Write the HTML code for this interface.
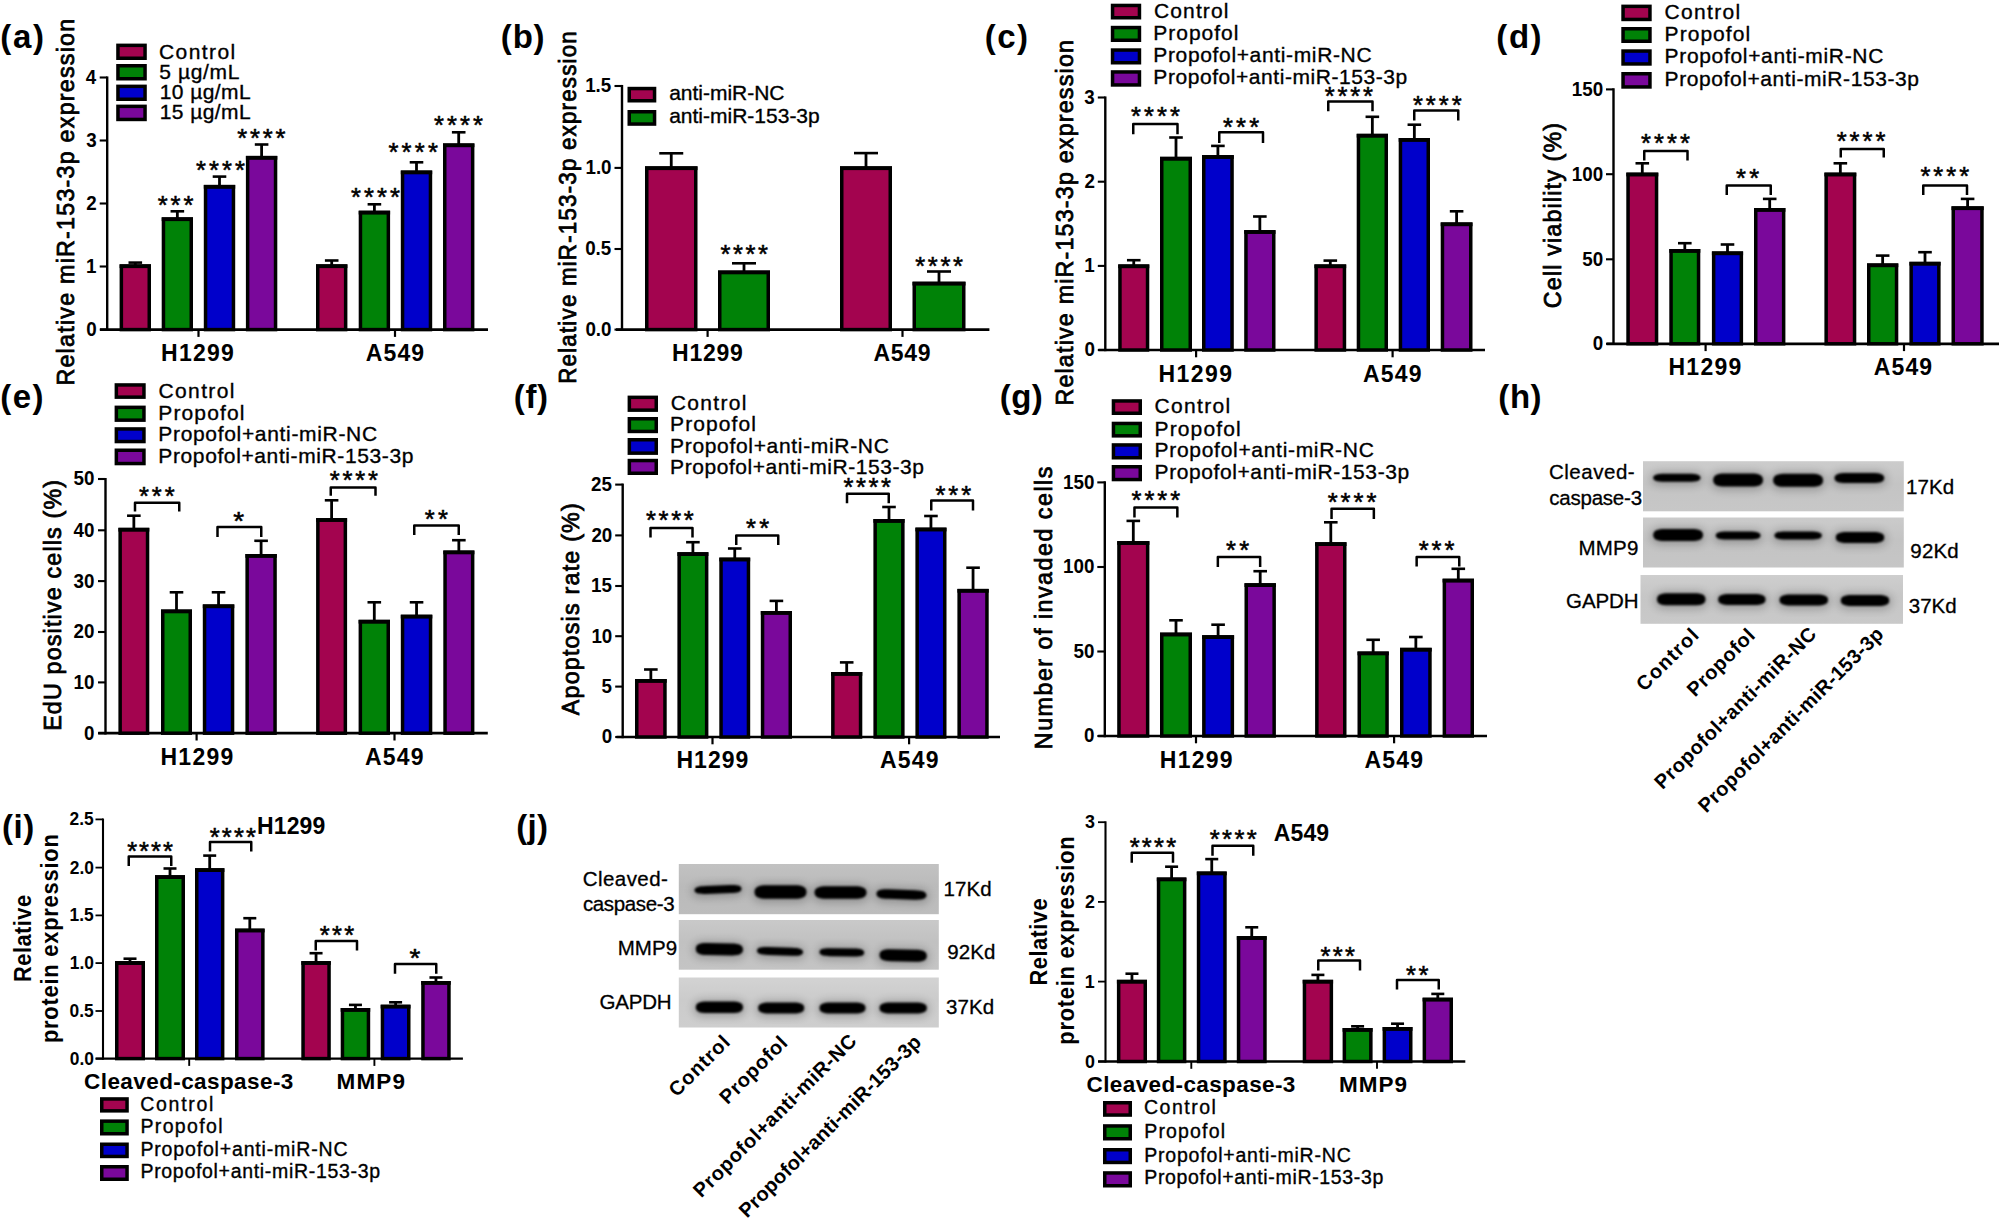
<!DOCTYPE html>
<html><head><meta charset="utf-8"><title>Figure</title>
<style>html,body{margin:0;padding:0;background:#fff}svg{display:block}text{font-family:"Liberation Sans",sans-serif;fill:#000}</style>
</head><body>
<svg width="2000" height="1219" viewBox="0 0 2000 1219">
<defs><filter id="bl" x="-5%" y="-5%" width="110%" height="110%"><feGaussianBlur stdDeviation="1.3"/></filter><filter id="halo" x="-5%" y="-5%" width="110%" height="110%"><feGaussianBlur stdDeviation="4"/></filter></defs>
<rect width="2000" height="1219" fill="#fff"/>
<text transform="translate(2.00 48.00)" x="-1.65" font-size="33" font-weight="bold" letter-spacing="1.688">(a)</text>
<text transform="translate(73.70 383.75) rotate(-90) scale(0.950 1)" x="-1.96" font-size="24.5" letter-spacing="1.304" stroke="#000" stroke-width="0.8">Relative miR-153-3p expression</text>
<line x1="107.20" y1="76.45" x2="107.20" y2="330.80" stroke="#000" stroke-width="2.4"/>
<line x1="100.00" y1="329.60" x2="488.00" y2="329.60" stroke="#000" stroke-width="2.6999999999999997"/>
<line x1="99.70" y1="77.50" x2="107.20" y2="77.50" stroke="#000" stroke-width="2.1"/>
<text transform="translate(85.94 83.98) scale(0.940 1)" x="-0.30" font-size="20" font-weight="bold">4</text>
<line x1="99.70" y1="140.50" x2="107.20" y2="140.50" stroke="#000" stroke-width="2.1"/>
<text transform="translate(86.69 146.98) scale(0.940 1)" x="-0.50" font-size="20" font-weight="bold">3</text>
<line x1="99.70" y1="203.50" x2="107.20" y2="203.50" stroke="#000" stroke-width="2.1"/>
<text transform="translate(86.98 209.98) scale(0.940 1)" x="-0.70" font-size="20" font-weight="bold">2</text>
<line x1="99.70" y1="266.50" x2="107.20" y2="266.50" stroke="#000" stroke-width="2.1"/>
<text transform="translate(87.16 272.98) scale(0.940 1)" x="-1.20" font-size="20" font-weight="bold">1</text>
<line x1="99.70" y1="329.60" x2="107.20" y2="329.60" stroke="#000" stroke-width="2.1"/>
<text transform="translate(87.07 336.08) scale(0.940 1)" x="-0.80" font-size="20" font-weight="bold">0</text>
<line x1="198.50" y1="329.60" x2="198.50" y2="336.90" stroke="#000" stroke-width="2.1999999999999997"/>
<line x1="395.00" y1="329.60" x2="395.00" y2="336.90" stroke="#000" stroke-width="2.1999999999999997"/>
<text transform="translate(162.55 361.20)" x="-1.50" font-size="23" font-weight="bold" letter-spacing="1.266">H1299</text>
<text transform="translate(366.30 361.20)" x="-0.58" font-size="23" font-weight="bold" letter-spacing="1.137">A549</text>
<line x1="135.30" y1="262.60" x2="135.30" y2="265.30" stroke="#000" stroke-width="2.8000000000000003"/>
<line x1="128.50" y1="262.60" x2="142.10" y2="262.60" stroke="#000" stroke-width="2.6"/>
<rect x="121.35" y="266.05" width="27.90" height="63.55" fill="#A3044F" stroke="#000" stroke-width="3.5"/>
<rect x="119.60" y="264.30" width="31.40" height="3.8" fill="#000"/>
<line x1="177.35" y1="211.30" x2="177.35" y2="218.30" stroke="#000" stroke-width="2.8000000000000003"/>
<line x1="170.55" y1="211.30" x2="184.15" y2="211.30" stroke="#000" stroke-width="2.6"/>
<rect x="163.45" y="219.05" width="27.80" height="110.55" fill="#008207" stroke="#000" stroke-width="3.5"/>
<rect x="161.70" y="217.30" width="31.30" height="3.8" fill="#000"/>
<line x1="219.50" y1="176.60" x2="219.50" y2="185.90" stroke="#000" stroke-width="2.8000000000000003"/>
<line x1="212.70" y1="176.60" x2="226.30" y2="176.60" stroke="#000" stroke-width="2.6"/>
<rect x="205.55" y="186.65" width="27.90" height="142.95" fill="#0000CB" stroke="#000" stroke-width="3.5"/>
<rect x="203.80" y="184.90" width="31.40" height="3.8" fill="#000"/>
<line x1="261.60" y1="144.50" x2="261.60" y2="156.90" stroke="#000" stroke-width="2.8000000000000003"/>
<line x1="254.80" y1="144.50" x2="268.40" y2="144.50" stroke="#000" stroke-width="2.6"/>
<rect x="247.65" y="157.65" width="27.90" height="171.95" fill="#7A089B" stroke="#000" stroke-width="3.5"/>
<rect x="245.90" y="155.90" width="31.40" height="3.8" fill="#000"/>
<line x1="331.70" y1="260.50" x2="331.70" y2="265.30" stroke="#000" stroke-width="2.8000000000000003"/>
<line x1="324.90" y1="260.50" x2="338.50" y2="260.50" stroke="#000" stroke-width="2.6"/>
<rect x="317.75" y="266.05" width="27.90" height="63.55" fill="#A3044F" stroke="#000" stroke-width="3.5"/>
<rect x="316.00" y="264.30" width="31.40" height="3.8" fill="#000"/>
<line x1="374.40" y1="204.30" x2="374.40" y2="211.70" stroke="#000" stroke-width="2.8000000000000003"/>
<line x1="367.60" y1="204.30" x2="381.20" y2="204.30" stroke="#000" stroke-width="2.6"/>
<rect x="360.45" y="212.45" width="27.90" height="117.15" fill="#008207" stroke="#000" stroke-width="3.5"/>
<rect x="358.70" y="210.70" width="31.40" height="3.8" fill="#000"/>
<line x1="416.50" y1="162.30" x2="416.50" y2="171.50" stroke="#000" stroke-width="2.8000000000000003"/>
<line x1="409.70" y1="162.30" x2="423.30" y2="162.30" stroke="#000" stroke-width="2.6"/>
<rect x="402.55" y="172.25" width="27.90" height="157.35" fill="#0000CB" stroke="#000" stroke-width="3.5"/>
<rect x="400.80" y="170.50" width="31.40" height="3.8" fill="#000"/>
<line x1="458.70" y1="132.30" x2="458.70" y2="144.40" stroke="#000" stroke-width="2.8000000000000003"/>
<line x1="451.90" y1="132.30" x2="465.50" y2="132.30" stroke="#000" stroke-width="2.6"/>
<rect x="444.75" y="145.15" width="27.90" height="184.45" fill="#7A089B" stroke="#000" stroke-width="3.5"/>
<rect x="443.00" y="143.40" width="31.40" height="3.8" fill="#000"/>
<text transform="translate(158.00 213.97)" x="-0.38" font-size="25.5" letter-spacing="2.965" stroke="#000" stroke-width="0.55">***</text>
<text transform="translate(196.25 179.07)" x="-0.38" font-size="25.5" letter-spacing="3.121" stroke="#000" stroke-width="0.55">****</text>
<text transform="translate(237.50 147.07)" x="-0.38" font-size="25.5" letter-spacing="2.871" stroke="#000" stroke-width="0.55">****</text>
<text transform="translate(351.25 206.47)" x="-0.38" font-size="25.5" letter-spacing="3.121" stroke="#000" stroke-width="0.55">****</text>
<text transform="translate(388.75 161.47)" x="-0.38" font-size="25.5" letter-spacing="3.287" stroke="#000" stroke-width="0.55">****</text>
<text transform="translate(434.25 133.82)" x="-0.38" font-size="25.5" letter-spacing="3.121" stroke="#000" stroke-width="0.55">****</text>
<rect x="117.95" y="45.35" width="27.10" height="12.90" fill="#A3044F" stroke="#000" stroke-width="3.5"/>
<text transform="translate(160.00 58.75)" x="-1.05" font-size="21" letter-spacing="1.424" stroke="#000" stroke-width="0.35">Control</text>
<rect x="117.95" y="65.75" width="27.10" height="13.00" fill="#008207" stroke="#000" stroke-width="3.5"/>
<text transform="translate(160.00 78.75)" x="-0.84" font-size="21" letter-spacing="0.665" stroke="#000" stroke-width="0.35">5 µg/mL</text>
<rect x="117.95" y="86.35" width="27.10" height="12.90" fill="#0000CB" stroke="#000" stroke-width="3.5"/>
<text transform="translate(161.25 98.75)" x="-1.57" font-size="21" letter-spacing="0.424" stroke="#000" stroke-width="0.35">10 µg/mL</text>
<rect x="117.95" y="106.35" width="27.10" height="13.10" fill="#7A089B" stroke="#000" stroke-width="3.5"/>
<text transform="translate(161.25 118.75)" x="-1.57" font-size="21" letter-spacing="0.424" stroke="#000" stroke-width="0.35">15 µg/mL</text>
<text transform="translate(502.50 47.50)" x="-1.65" font-size="33" font-weight="bold" letter-spacing="0.780">(b)</text>
<text transform="translate(575.50 382.00) rotate(-90) scale(0.950 1)" x="-1.88" font-size="23.5" letter-spacing="1.272" stroke="#000" stroke-width="0.8">Relative miR-153-3p expression</text>
<line x1="622.00" y1="84.95" x2="622.00" y2="330.80" stroke="#000" stroke-width="2.4"/>
<line x1="616.00" y1="329.60" x2="989.40" y2="329.60" stroke="#000" stroke-width="2.6999999999999997"/>
<line x1="614.50" y1="86.00" x2="622.00" y2="86.00" stroke="#000" stroke-width="2.1"/>
<text transform="translate(586.27 92.48) scale(0.940 1)" x="-1.20" font-size="20" font-weight="bold">1.5</text>
<line x1="614.50" y1="167.90" x2="622.00" y2="167.90" stroke="#000" stroke-width="2.1"/>
<text transform="translate(586.55 174.38) scale(0.940 1)" x="-1.20" font-size="20" font-weight="bold">1.0</text>
<line x1="614.50" y1="249.00" x2="622.00" y2="249.00" stroke="#000" stroke-width="2.1"/>
<text transform="translate(585.89 255.48) scale(0.940 1)" x="-0.80" font-size="20" font-weight="bold">0.5</text>
<line x1="614.50" y1="329.60" x2="622.00" y2="329.60" stroke="#000" stroke-width="2.1"/>
<text transform="translate(586.17 336.08) scale(0.940 1)" x="-0.80" font-size="20" font-weight="bold">0.0</text>
<line x1="707.60" y1="329.60" x2="707.60" y2="336.90" stroke="#000" stroke-width="2.1999999999999997"/>
<line x1="902.50" y1="329.60" x2="902.50" y2="336.90" stroke="#000" stroke-width="2.1999999999999997"/>
<text transform="translate(673.55 360.70)" x="-1.50" font-size="23" font-weight="bold" letter-spacing="0.766">H1299</text>
<text transform="translate(874.15 360.70)" x="-0.58" font-size="23" font-weight="bold" letter-spacing="0.637">A549</text>
<line x1="671.25" y1="153.30" x2="671.25" y2="167.30" stroke="#000" stroke-width="2.8000000000000003"/>
<line x1="659.25" y1="153.30" x2="683.25" y2="153.30" stroke="#000" stroke-width="2.6"/>
<rect x="646.75" y="168.05" width="49.00" height="161.55" fill="#A3044F" stroke="#000" stroke-width="3.5"/>
<rect x="645.00" y="166.30" width="52.50" height="3.8" fill="#000"/>
<line x1="744.00" y1="263.30" x2="744.00" y2="271.50" stroke="#000" stroke-width="2.8000000000000003"/>
<line x1="732.00" y1="263.30" x2="756.00" y2="263.30" stroke="#000" stroke-width="2.6"/>
<rect x="719.75" y="272.25" width="48.50" height="57.35" fill="#008207" stroke="#000" stroke-width="3.5"/>
<rect x="718.00" y="270.50" width="52.00" height="3.8" fill="#000"/>
<line x1="866.00" y1="153.10" x2="866.00" y2="167.30" stroke="#000" stroke-width="2.8000000000000003"/>
<line x1="854.00" y1="153.10" x2="878.00" y2="153.10" stroke="#000" stroke-width="2.6"/>
<rect x="841.75" y="168.05" width="48.50" height="161.55" fill="#A3044F" stroke="#000" stroke-width="3.5"/>
<rect x="840.00" y="166.30" width="52.00" height="3.8" fill="#000"/>
<line x1="939.00" y1="271.50" x2="939.00" y2="282.70" stroke="#000" stroke-width="2.8000000000000003"/>
<line x1="927.00" y1="271.50" x2="951.00" y2="271.50" stroke="#000" stroke-width="2.6"/>
<rect x="914.25" y="283.45" width="49.50" height="46.15" fill="#008207" stroke="#000" stroke-width="3.5"/>
<rect x="912.50" y="281.70" width="53.00" height="3.8" fill="#000"/>
<text transform="translate(720.75 262.82)" x="-0.38" font-size="25.5" letter-spacing="2.621" stroke="#000" stroke-width="0.55">****</text>
<text transform="translate(915.50 274.82)" x="-0.38" font-size="25.5" letter-spacing="2.704" stroke="#000" stroke-width="0.55">****</text>
<rect x="629.25" y="88.55" width="25.30" height="12.20" fill="#A3044F" stroke="#000" stroke-width="3.5"/>
<text transform="translate(670.00 100.00)" x="-0.84" font-size="21" letter-spacing="-0.017" stroke="#000" stroke-width="0.35">anti-miR-NC</text>
<rect x="629.25" y="111.75" width="25.30" height="12.30" fill="#008207" stroke="#000" stroke-width="3.5"/>
<text transform="translate(670.00 123.25)" x="-0.84" font-size="21" stroke="#000" stroke-width="0.35">anti-miR-153-3p</text>
<text transform="translate(986.50 47.50)" x="-1.65" font-size="33" font-weight="bold" letter-spacing="1.337">(c)</text>
<text transform="translate(1073.40 403.75) rotate(-90) scale(0.950 1)" x="-1.96" font-size="24.5" letter-spacing="1.258" stroke="#000" stroke-width="0.8">Relative miR-153-3p expression</text>
<line x1="1105.30" y1="96.45" x2="1105.30" y2="351.20" stroke="#000" stroke-width="2.4"/>
<line x1="1098.40" y1="350.00" x2="1485.00" y2="350.00" stroke="#000" stroke-width="2.6999999999999997"/>
<line x1="1097.80" y1="97.50" x2="1105.30" y2="97.50" stroke="#000" stroke-width="2.1"/>
<text transform="translate(1084.79 103.98) scale(0.940 1)" x="-0.50" font-size="20" font-weight="bold">3</text>
<line x1="1097.80" y1="181.70" x2="1105.30" y2="181.70" stroke="#000" stroke-width="2.1"/>
<text transform="translate(1085.08 188.18) scale(0.940 1)" x="-0.70" font-size="20" font-weight="bold">2</text>
<line x1="1097.80" y1="265.90" x2="1105.30" y2="265.90" stroke="#000" stroke-width="2.1"/>
<text transform="translate(1085.26 272.38) scale(0.940 1)" x="-1.20" font-size="20" font-weight="bold">1</text>
<line x1="1097.80" y1="350.00" x2="1105.30" y2="350.00" stroke="#000" stroke-width="2.1"/>
<text transform="translate(1085.17 356.48) scale(0.940 1)" x="-0.80" font-size="20" font-weight="bold">0</text>
<line x1="1196.10" y1="350.00" x2="1196.10" y2="357.30" stroke="#000" stroke-width="2.1999999999999997"/>
<line x1="1392.60" y1="350.00" x2="1392.60" y2="357.30" stroke="#000" stroke-width="2.1999999999999997"/>
<text transform="translate(1160.10 382.00)" x="-1.50" font-size="23" font-weight="bold" letter-spacing="1.391">H1299</text>
<text transform="translate(1363.70 382.00)" x="-0.58" font-size="23" font-weight="bold" letter-spacing="1.137">A549</text>
<line x1="1133.75" y1="260.20" x2="1133.75" y2="265.40" stroke="#000" stroke-width="2.8000000000000003"/>
<line x1="1126.95" y1="260.20" x2="1140.55" y2="260.20" stroke="#000" stroke-width="2.6"/>
<rect x="1119.95" y="266.15" width="27.60" height="83.85" fill="#A3044F" stroke="#000" stroke-width="3.5"/>
<rect x="1118.20" y="264.40" width="31.10" height="3.8" fill="#000"/>
<line x1="1176.00" y1="137.50" x2="1176.00" y2="157.80" stroke="#000" stroke-width="2.8000000000000003"/>
<line x1="1169.20" y1="137.50" x2="1182.80" y2="137.50" stroke="#000" stroke-width="2.6"/>
<rect x="1161.75" y="158.55" width="28.50" height="191.45" fill="#008207" stroke="#000" stroke-width="3.5"/>
<rect x="1160.00" y="156.80" width="32.00" height="3.8" fill="#000"/>
<line x1="1217.90" y1="145.90" x2="1217.90" y2="156.10" stroke="#000" stroke-width="2.8000000000000003"/>
<line x1="1211.10" y1="145.90" x2="1224.70" y2="145.90" stroke="#000" stroke-width="2.6"/>
<rect x="1203.75" y="156.85" width="28.30" height="193.15" fill="#0000CB" stroke="#000" stroke-width="3.5"/>
<rect x="1202.00" y="155.10" width="31.80" height="3.8" fill="#000"/>
<line x1="1259.85" y1="216.50" x2="1259.85" y2="231.10" stroke="#000" stroke-width="2.8000000000000003"/>
<line x1="1253.05" y1="216.50" x2="1266.65" y2="216.50" stroke="#000" stroke-width="2.6"/>
<rect x="1245.95" y="231.85" width="27.80" height="118.15" fill="#7A089B" stroke="#000" stroke-width="3.5"/>
<rect x="1244.20" y="230.10" width="31.30" height="3.8" fill="#000"/>
<line x1="1330.30" y1="260.60" x2="1330.30" y2="265.40" stroke="#000" stroke-width="2.8000000000000003"/>
<line x1="1323.50" y1="260.60" x2="1337.10" y2="260.60" stroke="#000" stroke-width="2.6"/>
<rect x="1316.15" y="266.15" width="28.30" height="83.85" fill="#A3044F" stroke="#000" stroke-width="3.5"/>
<rect x="1314.40" y="264.40" width="31.80" height="3.8" fill="#000"/>
<line x1="1372.35" y1="116.80" x2="1372.35" y2="134.80" stroke="#000" stroke-width="2.8000000000000003"/>
<line x1="1365.55" y1="116.80" x2="1379.15" y2="116.80" stroke="#000" stroke-width="2.6"/>
<rect x="1358.45" y="135.55" width="27.80" height="214.45" fill="#008207" stroke="#000" stroke-width="3.5"/>
<rect x="1356.70" y="133.80" width="31.30" height="3.8" fill="#000"/>
<line x1="1414.35" y1="124.70" x2="1414.35" y2="139.00" stroke="#000" stroke-width="2.8000000000000003"/>
<line x1="1407.55" y1="124.70" x2="1421.15" y2="124.70" stroke="#000" stroke-width="2.6"/>
<rect x="1400.45" y="139.75" width="27.80" height="210.25" fill="#0000CB" stroke="#000" stroke-width="3.5"/>
<rect x="1398.70" y="138.00" width="31.30" height="3.8" fill="#000"/>
<line x1="1456.60" y1="211.30" x2="1456.60" y2="223.40" stroke="#000" stroke-width="2.8000000000000003"/>
<line x1="1449.80" y1="211.30" x2="1463.40" y2="211.30" stroke="#000" stroke-width="2.6"/>
<rect x="1442.45" y="224.15" width="28.30" height="125.85" fill="#7A089B" stroke="#000" stroke-width="3.5"/>
<rect x="1440.70" y="222.40" width="31.80" height="3.8" fill="#000"/>
<path d="M1133.25 134.20V124.00H1177.50V134.20" fill="none" stroke="#000" stroke-width="2.5" stroke-linejoin="round"/>
<text transform="translate(1131.25 124.97)" x="-0.38" font-size="25.5" letter-spacing="3.121" stroke="#000" stroke-width="0.55">****</text>
<path d="M1219.25 143.00V132.20H1263.00V143.00" fill="none" stroke="#000" stroke-width="2.5" stroke-linejoin="round"/>
<text transform="translate(1223.25 135.67)" x="-0.38" font-size="25.5" letter-spacing="3.215" stroke="#000" stroke-width="0.55">***</text>
<path d="M1328.25 111.30V101.60H1372.50V111.30" fill="none" stroke="#000" stroke-width="2.5" stroke-linejoin="round"/>
<text transform="translate(1325.00 105.17)" x="-0.38" font-size="25.5" letter-spacing="2.871" stroke="#000" stroke-width="0.55">****</text>
<path d="M1414.25 120.50V110.40H1458.25V120.50" fill="none" stroke="#000" stroke-width="2.5" stroke-linejoin="round"/>
<text transform="translate(1413.25 114.47)" x="-0.38" font-size="25.5" letter-spacing="3.037" stroke="#000" stroke-width="0.55">****</text>
<rect x="1112.55" y="5.45" width="26.90" height="12.30" fill="#A3044F" stroke="#000" stroke-width="3.5"/>
<text transform="translate(1155.00 17.50)" x="-1.05" font-size="21" letter-spacing="1.133" stroke="#000" stroke-width="0.35">Control</text>
<rect x="1112.55" y="27.55" width="26.90" height="12.70" fill="#008207" stroke="#000" stroke-width="3.5"/>
<text transform="translate(1155.00 40.00)" x="-1.68" font-size="21" letter-spacing="0.974" stroke="#000" stroke-width="0.35">Propofol</text>
<rect x="1112.55" y="50.05" width="26.90" height="12.70" fill="#0000CB" stroke="#000" stroke-width="3.5"/>
<text transform="translate(1155.00 62.00)" x="-1.68" font-size="21" letter-spacing="0.645" stroke="#000" stroke-width="0.35">Propofol+anti-miR-NC</text>
<rect x="1112.55" y="71.95" width="26.90" height="13.00" fill="#7A089B" stroke="#000" stroke-width="3.5"/>
<text transform="translate(1155.00 83.75)" x="-1.68" font-size="21" letter-spacing="0.556" stroke="#000" stroke-width="0.35">Propofol+anti-miR-153-3p</text>
<text transform="translate(1498.00 47.50)" x="-1.65" font-size="33" font-weight="bold" letter-spacing="1.530">(d)</text>
<text transform="translate(1560.50 307.00) rotate(-90) scale(0.950 1)" x="-1.23" font-size="24.5" letter-spacing="1.228" stroke="#000" stroke-width="0.8">Cell viability (%)</text>
<line x1="1613.50" y1="88.35" x2="1613.50" y2="345.00" stroke="#000" stroke-width="2.4"/>
<line x1="1606.60" y1="343.80" x2="1999.00" y2="343.80" stroke="#000" stroke-width="2.6999999999999997"/>
<line x1="1606.00" y1="89.40" x2="1613.50" y2="89.40" stroke="#000" stroke-width="2.1"/>
<text transform="translate(1572.88 95.88) scale(0.940 1)" x="-1.20" font-size="20" font-weight="bold">150</text>
<line x1="1606.00" y1="174.20" x2="1613.50" y2="174.20" stroke="#000" stroke-width="2.1"/>
<text transform="translate(1572.88 180.68) scale(0.940 1)" x="-1.20" font-size="20" font-weight="bold">100</text>
<line x1="1606.00" y1="259.30" x2="1613.50" y2="259.30" stroke="#000" stroke-width="2.1"/>
<text transform="translate(1582.75 265.78) scale(0.940 1)" x="-0.60" font-size="20" font-weight="bold">50</text>
<line x1="1606.00" y1="343.80" x2="1613.50" y2="343.80" stroke="#000" stroke-width="2.1"/>
<text transform="translate(1593.37 350.28) scale(0.940 1)" x="-0.80" font-size="20" font-weight="bold">0</text>
<line x1="1705.60" y1="343.80" x2="1705.60" y2="351.10" stroke="#000" stroke-width="2.1999999999999997"/>
<line x1="1904.00" y1="343.80" x2="1904.00" y2="351.10" stroke="#000" stroke-width="2.1999999999999997"/>
<text transform="translate(1669.95 375.30)" x="-1.50" font-size="23" font-weight="bold" letter-spacing="1.266">H1299</text>
<text transform="translate(1874.30 375.30)" x="-0.58" font-size="23" font-weight="bold" letter-spacing="1.137">A549</text>
<line x1="1642.30" y1="163.30" x2="1642.30" y2="173.60" stroke="#000" stroke-width="2.8000000000000003"/>
<line x1="1635.50" y1="163.30" x2="1649.10" y2="163.30" stroke="#000" stroke-width="2.6"/>
<rect x="1628.05" y="174.35" width="28.50" height="169.45" fill="#A3044F" stroke="#000" stroke-width="3.5"/>
<rect x="1626.30" y="172.60" width="32.00" height="3.8" fill="#000"/>
<line x1="1684.80" y1="243.20" x2="1684.80" y2="250.00" stroke="#000" stroke-width="2.8000000000000003"/>
<line x1="1678.00" y1="243.20" x2="1691.60" y2="243.20" stroke="#000" stroke-width="2.6"/>
<rect x="1671.05" y="250.75" width="27.50" height="93.05" fill="#008207" stroke="#000" stroke-width="3.5"/>
<rect x="1669.30" y="249.00" width="31.00" height="3.8" fill="#000"/>
<line x1="1727.50" y1="244.50" x2="1727.50" y2="252.40" stroke="#000" stroke-width="2.8000000000000003"/>
<line x1="1720.70" y1="244.50" x2="1734.30" y2="244.50" stroke="#000" stroke-width="2.6"/>
<rect x="1713.65" y="253.15" width="27.70" height="90.65" fill="#0000CB" stroke="#000" stroke-width="3.5"/>
<rect x="1711.90" y="251.40" width="31.20" height="3.8" fill="#000"/>
<line x1="1769.70" y1="198.90" x2="1769.70" y2="209.00" stroke="#000" stroke-width="2.8000000000000003"/>
<line x1="1762.90" y1="198.90" x2="1776.50" y2="198.90" stroke="#000" stroke-width="2.6"/>
<rect x="1755.75" y="209.75" width="27.90" height="134.05" fill="#7A089B" stroke="#000" stroke-width="3.5"/>
<rect x="1754.00" y="208.00" width="31.40" height="3.8" fill="#000"/>
<line x1="1840.35" y1="163.30" x2="1840.35" y2="173.60" stroke="#000" stroke-width="2.8000000000000003"/>
<line x1="1833.55" y1="163.30" x2="1847.15" y2="163.30" stroke="#000" stroke-width="2.6"/>
<rect x="1826.15" y="174.35" width="28.40" height="169.45" fill="#A3044F" stroke="#000" stroke-width="3.5"/>
<rect x="1824.40" y="172.60" width="31.90" height="3.8" fill="#000"/>
<line x1="1882.65" y1="255.60" x2="1882.65" y2="264.40" stroke="#000" stroke-width="2.8000000000000003"/>
<line x1="1875.85" y1="255.60" x2="1889.45" y2="255.60" stroke="#000" stroke-width="2.6"/>
<rect x="1868.75" y="265.15" width="27.80" height="78.65" fill="#008207" stroke="#000" stroke-width="3.5"/>
<rect x="1867.00" y="263.40" width="31.30" height="3.8" fill="#000"/>
<line x1="1925.00" y1="252.20" x2="1925.00" y2="262.80" stroke="#000" stroke-width="2.8000000000000003"/>
<line x1="1918.20" y1="252.20" x2="1931.80" y2="252.20" stroke="#000" stroke-width="2.6"/>
<rect x="1911.15" y="263.55" width="27.70" height="80.25" fill="#0000CB" stroke="#000" stroke-width="3.5"/>
<rect x="1909.40" y="261.80" width="31.20" height="3.8" fill="#000"/>
<line x1="1967.60" y1="198.90" x2="1967.60" y2="207.30" stroke="#000" stroke-width="2.8000000000000003"/>
<line x1="1960.80" y1="198.90" x2="1974.40" y2="198.90" stroke="#000" stroke-width="2.6"/>
<rect x="1953.25" y="208.05" width="28.70" height="135.75" fill="#7A089B" stroke="#000" stroke-width="3.5"/>
<rect x="1951.50" y="206.30" width="32.20" height="3.8" fill="#000"/>
<path d="M1644.25 160.60V150.90H1687.50V160.60" fill="none" stroke="#000" stroke-width="2.5" stroke-linejoin="round"/>
<text transform="translate(1641.25 151.97)" x="-0.38" font-size="25.5" letter-spacing="3.121" stroke="#000" stroke-width="0.55">****</text>
<path d="M1726.75 195.00V185.40H1770.75V195.00" fill="none" stroke="#000" stroke-width="2.5" stroke-linejoin="round"/>
<text transform="translate(1736.25 186.87)" x="-0.38" font-size="25.5" letter-spacing="3.375" stroke="#000" stroke-width="0.55">**</text>
<path d="M1840.75 157.50V149.10H1883.75V157.50" fill="none" stroke="#000" stroke-width="2.5" stroke-linejoin="round"/>
<text transform="translate(1837.00 150.07)" x="-0.38" font-size="25.5" letter-spacing="3.037" stroke="#000" stroke-width="0.55">****</text>
<path d="M1923.25 195.00V185.40H1967.00V195.00" fill="none" stroke="#000" stroke-width="2.5" stroke-linejoin="round"/>
<text transform="translate(1920.75 185.47)" x="-0.38" font-size="25.5" letter-spacing="3.037" stroke="#000" stroke-width="0.55">****</text>
<rect x="1623.05" y="6.35" width="26.90" height="13.10" fill="#A3044F" stroke="#000" stroke-width="3.5"/>
<text transform="translate(1665.50 18.75)" x="-1.05" font-size="21" letter-spacing="1.341" stroke="#000" stroke-width="0.35">Control</text>
<rect x="1623.05" y="28.75" width="26.90" height="12.50" fill="#008207" stroke="#000" stroke-width="3.5"/>
<text transform="translate(1666.25 40.75)" x="-1.68" font-size="21" letter-spacing="1.046" stroke="#000" stroke-width="0.35">Propofol</text>
<rect x="1623.05" y="51.05" width="26.90" height="12.90" fill="#0000CB" stroke="#000" stroke-width="3.5"/>
<text transform="translate(1666.25 62.50)" x="-1.68" font-size="21" letter-spacing="0.672" stroke="#000" stroke-width="0.35">Propofol+anti-miR-NC</text>
<rect x="1623.05" y="73.75" width="26.90" height="13.20" fill="#7A089B" stroke="#000" stroke-width="3.5"/>
<text transform="translate(1666.25 85.75)" x="-1.68" font-size="21" letter-spacing="0.578" stroke="#000" stroke-width="0.35">Propofol+anti-miR-153-3p</text>
<text transform="translate(2.00 408.00)" x="-1.65" font-size="33" font-weight="bold" letter-spacing="1.438">(e)</text>
<text transform="translate(61.40 729.00) rotate(-90) scale(0.950 1)" x="-1.96" font-size="24.5" letter-spacing="1.242" stroke="#000" stroke-width="0.8">EdU positive cells (%)</text>
<line x1="105.50" y1="477.95" x2="105.50" y2="734.40" stroke="#000" stroke-width="2.4"/>
<line x1="98.20" y1="733.20" x2="487.80" y2="733.20" stroke="#000" stroke-width="2.6999999999999997"/>
<line x1="98.00" y1="479.00" x2="105.50" y2="479.00" stroke="#000" stroke-width="2.1"/>
<text transform="translate(74.05 485.48) scale(0.940 1)" x="-0.60" font-size="20" font-weight="bold">50</text>
<line x1="98.00" y1="530.30" x2="105.50" y2="530.30" stroke="#000" stroke-width="2.1"/>
<text transform="translate(73.77 536.78) scale(0.940 1)" x="-0.30" font-size="20" font-weight="bold">40</text>
<line x1="98.00" y1="581.10" x2="105.50" y2="581.10" stroke="#000" stroke-width="2.1"/>
<text transform="translate(73.95 587.58) scale(0.940 1)" x="-0.50" font-size="20" font-weight="bold">30</text>
<line x1="98.00" y1="632.00" x2="105.50" y2="632.00" stroke="#000" stroke-width="2.1"/>
<text transform="translate(74.14 638.48) scale(0.940 1)" x="-0.70" font-size="20" font-weight="bold">20</text>
<line x1="98.00" y1="682.40" x2="105.50" y2="682.40" stroke="#000" stroke-width="2.1"/>
<text transform="translate(74.61 688.88) scale(0.940 1)" x="-1.20" font-size="20" font-weight="bold">10</text>
<line x1="98.00" y1="733.20" x2="105.50" y2="733.20" stroke="#000" stroke-width="2.1"/>
<text transform="translate(84.67 739.68) scale(0.940 1)" x="-0.80" font-size="20" font-weight="bold">0</text>
<line x1="196.60" y1="733.20" x2="196.60" y2="740.50" stroke="#000" stroke-width="2.1999999999999997"/>
<line x1="394.50" y1="733.20" x2="394.50" y2="740.50" stroke="#000" stroke-width="2.1999999999999997"/>
<text transform="translate(161.95 765.20)" x="-1.50" font-size="23" font-weight="bold" letter-spacing="1.266">H1299</text>
<text transform="translate(365.60 765.20)" x="-0.58" font-size="23" font-weight="bold" letter-spacing="1.137">A549</text>
<line x1="133.85" y1="515.70" x2="133.85" y2="528.80" stroke="#000" stroke-width="2.8000000000000003"/>
<line x1="127.05" y1="515.70" x2="140.65" y2="515.70" stroke="#000" stroke-width="2.6"/>
<rect x="120.15" y="529.55" width="27.40" height="203.65" fill="#A3044F" stroke="#000" stroke-width="3.5"/>
<rect x="118.40" y="527.80" width="30.90" height="3.8" fill="#000"/>
<line x1="176.50" y1="592.30" x2="176.50" y2="610.50" stroke="#000" stroke-width="2.8000000000000003"/>
<line x1="169.70" y1="592.30" x2="183.30" y2="592.30" stroke="#000" stroke-width="2.6"/>
<rect x="162.75" y="611.25" width="27.50" height="121.95" fill="#008207" stroke="#000" stroke-width="3.5"/>
<rect x="161.00" y="609.50" width="31.00" height="3.8" fill="#000"/>
<line x1="218.55" y1="592.30" x2="218.55" y2="605.40" stroke="#000" stroke-width="2.8000000000000003"/>
<line x1="211.75" y1="592.30" x2="225.35" y2="592.30" stroke="#000" stroke-width="2.6"/>
<rect x="204.55" y="606.15" width="28.00" height="127.05" fill="#0000CB" stroke="#000" stroke-width="3.5"/>
<rect x="202.80" y="604.40" width="31.50" height="3.8" fill="#000"/>
<line x1="261.10" y1="540.80" x2="261.10" y2="555.00" stroke="#000" stroke-width="2.8000000000000003"/>
<line x1="254.30" y1="540.80" x2="267.90" y2="540.80" stroke="#000" stroke-width="2.6"/>
<rect x="247.15" y="555.75" width="27.90" height="177.45" fill="#7A089B" stroke="#000" stroke-width="3.5"/>
<rect x="245.40" y="554.00" width="31.40" height="3.8" fill="#000"/>
<line x1="331.60" y1="500.30" x2="331.60" y2="519.10" stroke="#000" stroke-width="2.8000000000000003"/>
<line x1="324.80" y1="500.30" x2="338.40" y2="500.30" stroke="#000" stroke-width="2.6"/>
<rect x="317.85" y="519.85" width="27.50" height="213.35" fill="#A3044F" stroke="#000" stroke-width="3.5"/>
<rect x="316.10" y="518.10" width="31.00" height="3.8" fill="#000"/>
<line x1="374.30" y1="602.30" x2="374.30" y2="620.80" stroke="#000" stroke-width="2.8000000000000003"/>
<line x1="367.50" y1="602.30" x2="381.10" y2="602.30" stroke="#000" stroke-width="2.6"/>
<rect x="360.35" y="621.55" width="27.90" height="111.65" fill="#008207" stroke="#000" stroke-width="3.5"/>
<rect x="358.60" y="619.80" width="31.40" height="3.8" fill="#000"/>
<line x1="416.55" y1="602.30" x2="416.55" y2="615.70" stroke="#000" stroke-width="2.8000000000000003"/>
<line x1="409.75" y1="602.30" x2="423.35" y2="602.30" stroke="#000" stroke-width="2.6"/>
<rect x="402.55" y="616.45" width="28.00" height="116.75" fill="#0000CB" stroke="#000" stroke-width="3.5"/>
<rect x="400.80" y="614.70" width="31.50" height="3.8" fill="#000"/>
<line x1="458.85" y1="540.20" x2="458.85" y2="551.50" stroke="#000" stroke-width="2.8000000000000003"/>
<line x1="452.05" y1="540.20" x2="465.65" y2="540.20" stroke="#000" stroke-width="2.6"/>
<rect x="445.05" y="552.25" width="27.60" height="180.95" fill="#7A089B" stroke="#000" stroke-width="3.5"/>
<rect x="443.30" y="550.50" width="31.10" height="3.8" fill="#000"/>
<path d="M135.00 511.50V502.80H179.25V511.50" fill="none" stroke="#000" stroke-width="2.5" stroke-linejoin="round"/>
<text transform="translate(139.25 504.57)" x="-0.38" font-size="25.5" letter-spacing="2.965" stroke="#000" stroke-width="0.55">***</text>
<path d="M217.50 537.00V527.10H261.25V537.00" fill="none" stroke="#000" stroke-width="2.5" stroke-linejoin="round"/>
<text transform="translate(233.75 529.77) scale(1.089 1)" x="-0.38" font-size="25.5" stroke="#000" stroke-width="0.55">*</text>
<path d="M330.75 495.70V487.50H375.50V495.70" fill="none" stroke="#000" stroke-width="2.5" stroke-linejoin="round"/>
<text transform="translate(330.00 489.27)" x="-0.38" font-size="25.5" letter-spacing="2.871" stroke="#000" stroke-width="0.55">****</text>
<path d="M414.25 535.10V525.60H458.75V535.10" fill="none" stroke="#000" stroke-width="2.5" stroke-linejoin="round"/>
<text transform="translate(425.00 528.07)" x="-0.38" font-size="25.5" letter-spacing="3.375" stroke="#000" stroke-width="0.55">**</text>
<rect x="116.35" y="384.95" width="27.60" height="12.20" fill="#A3044F" stroke="#000" stroke-width="3.5"/>
<text transform="translate(159.50 397.50)" x="-1.05" font-size="21" letter-spacing="1.383" stroke="#000" stroke-width="0.35">Control</text>
<rect x="116.35" y="407.35" width="27.60" height="12.80" fill="#008207" stroke="#000" stroke-width="3.5"/>
<text transform="translate(160.00 420.00)" x="-1.68" font-size="21" letter-spacing="1.117" stroke="#000" stroke-width="0.35">Propofol</text>
<rect x="116.35" y="428.95" width="27.60" height="12.60" fill="#0000CB" stroke="#000" stroke-width="3.5"/>
<text transform="translate(160.00 441.25)" x="-1.68" font-size="21" letter-spacing="0.672" stroke="#000" stroke-width="0.35">Propofol+anti-miR-NC</text>
<rect x="116.35" y="450.25" width="27.60" height="13.30" fill="#7A089B" stroke="#000" stroke-width="3.5"/>
<text transform="translate(160.00 462.50)" x="-1.68" font-size="21" letter-spacing="0.611" stroke="#000" stroke-width="0.35">Propofol+anti-miR-153-3p</text>
<text transform="translate(515.50 407.50)" x="-1.65" font-size="33" font-weight="bold" letter-spacing="0.550">(f)</text>
<text transform="translate(578.80 715.25) rotate(-90) scale(0.950 1)" x="-0.00" font-size="24.5" letter-spacing="1.282" stroke="#000" stroke-width="0.8">Apoptosis rate (%)</text>
<line x1="622.70" y1="483.55" x2="622.70" y2="738.20" stroke="#000" stroke-width="2.4"/>
<line x1="616.50" y1="737.00" x2="1000.00" y2="737.00" stroke="#000" stroke-width="2.6999999999999997"/>
<line x1="615.20" y1="484.60" x2="622.70" y2="484.60" stroke="#000" stroke-width="2.1"/>
<text transform="translate(591.76 491.08) scale(0.940 1)" x="-0.70" font-size="20" font-weight="bold">25</text>
<line x1="615.20" y1="535.40" x2="622.70" y2="535.40" stroke="#000" stroke-width="2.1"/>
<text transform="translate(592.04 541.88) scale(0.940 1)" x="-0.70" font-size="20" font-weight="bold">20</text>
<line x1="615.20" y1="586.00" x2="622.70" y2="586.00" stroke="#000" stroke-width="2.1"/>
<text transform="translate(592.23 592.48) scale(0.940 1)" x="-1.20" font-size="20" font-weight="bold">15</text>
<line x1="615.20" y1="636.20" x2="622.70" y2="636.20" stroke="#000" stroke-width="2.1"/>
<text transform="translate(592.51 642.68) scale(0.940 1)" x="-1.20" font-size="20" font-weight="bold">10</text>
<line x1="615.20" y1="686.60" x2="622.70" y2="686.60" stroke="#000" stroke-width="2.1"/>
<text transform="translate(602.10 693.08) scale(0.940 1)" x="-0.60" font-size="20" font-weight="bold">5</text>
<line x1="615.20" y1="737.00" x2="622.70" y2="737.00" stroke="#000" stroke-width="2.1"/>
<text transform="translate(602.57 743.48) scale(0.940 1)" x="-0.80" font-size="20" font-weight="bold">0</text>
<line x1="712.50" y1="737.00" x2="712.50" y2="744.30" stroke="#000" stroke-width="2.1999999999999997"/>
<line x1="909.10" y1="737.00" x2="909.10" y2="744.30" stroke="#000" stroke-width="2.1999999999999997"/>
<text transform="translate(677.95 768.20)" x="-1.50" font-size="23" font-weight="bold" letter-spacing="1.016">H1299</text>
<text transform="translate(880.60 768.20)" x="-0.58" font-size="23" font-weight="bold" letter-spacing="1.137">A549</text>
<line x1="650.85" y1="669.50" x2="650.85" y2="680.00" stroke="#000" stroke-width="2.8000000000000003"/>
<line x1="644.05" y1="669.50" x2="657.65" y2="669.50" stroke="#000" stroke-width="2.6"/>
<rect x="636.75" y="680.75" width="28.20" height="56.25" fill="#A3044F" stroke="#000" stroke-width="3.5"/>
<rect x="635.00" y="679.00" width="31.70" height="3.8" fill="#000"/>
<line x1="692.90" y1="542.20" x2="692.90" y2="553.20" stroke="#000" stroke-width="2.8000000000000003"/>
<line x1="686.10" y1="542.20" x2="699.70" y2="542.20" stroke="#000" stroke-width="2.6"/>
<rect x="679.15" y="553.95" width="27.50" height="183.05" fill="#008207" stroke="#000" stroke-width="3.5"/>
<rect x="677.40" y="552.20" width="31.00" height="3.8" fill="#000"/>
<line x1="734.75" y1="548.50" x2="734.75" y2="558.60" stroke="#000" stroke-width="2.8000000000000003"/>
<line x1="727.95" y1="548.50" x2="741.55" y2="548.50" stroke="#000" stroke-width="2.6"/>
<rect x="721.05" y="559.35" width="27.40" height="177.65" fill="#0000CB" stroke="#000" stroke-width="3.5"/>
<rect x="719.30" y="557.60" width="30.90" height="3.8" fill="#000"/>
<line x1="776.40" y1="600.90" x2="776.40" y2="612.00" stroke="#000" stroke-width="2.8000000000000003"/>
<line x1="769.60" y1="600.90" x2="783.20" y2="600.90" stroke="#000" stroke-width="2.6"/>
<rect x="762.55" y="612.75" width="27.70" height="124.25" fill="#7A089B" stroke="#000" stroke-width="3.5"/>
<rect x="760.80" y="611.00" width="31.20" height="3.8" fill="#000"/>
<line x1="846.70" y1="662.40" x2="846.70" y2="673.00" stroke="#000" stroke-width="2.8000000000000003"/>
<line x1="839.90" y1="662.40" x2="853.50" y2="662.40" stroke="#000" stroke-width="2.6"/>
<rect x="832.85" y="673.75" width="27.70" height="63.25" fill="#A3044F" stroke="#000" stroke-width="3.5"/>
<rect x="831.10" y="672.00" width="31.20" height="3.8" fill="#000"/>
<line x1="889.00" y1="507.00" x2="889.00" y2="520.00" stroke="#000" stroke-width="2.8000000000000003"/>
<line x1="882.20" y1="507.00" x2="895.80" y2="507.00" stroke="#000" stroke-width="2.6"/>
<rect x="875.15" y="520.75" width="27.70" height="216.25" fill="#008207" stroke="#000" stroke-width="3.5"/>
<rect x="873.40" y="519.00" width="31.20" height="3.8" fill="#000"/>
<line x1="930.95" y1="516.00" x2="930.95" y2="528.60" stroke="#000" stroke-width="2.8000000000000003"/>
<line x1="924.15" y1="516.00" x2="937.75" y2="516.00" stroke="#000" stroke-width="2.6"/>
<rect x="917.15" y="529.35" width="27.60" height="207.65" fill="#0000CB" stroke="#000" stroke-width="3.5"/>
<rect x="915.40" y="527.60" width="31.10" height="3.8" fill="#000"/>
<line x1="973.05" y1="567.70" x2="973.05" y2="589.90" stroke="#000" stroke-width="2.8000000000000003"/>
<line x1="966.25" y1="567.70" x2="979.85" y2="567.70" stroke="#000" stroke-width="2.6"/>
<rect x="959.15" y="590.65" width="27.80" height="146.35" fill="#7A089B" stroke="#000" stroke-width="3.5"/>
<rect x="957.40" y="588.90" width="31.30" height="3.8" fill="#000"/>
<path d="M650.50 537.60V527.90H692.50V537.60" fill="none" stroke="#000" stroke-width="2.5" stroke-linejoin="round"/>
<text transform="translate(646.25 529.37)" x="-0.38" font-size="25.5" letter-spacing="2.704" stroke="#000" stroke-width="0.55">****</text>
<path d="M736.25 545.00V535.40H778.25V545.00" fill="none" stroke="#000" stroke-width="2.5" stroke-linejoin="round"/>
<text transform="translate(746.25 537.37)" x="-0.38" font-size="25.5" letter-spacing="3.375" stroke="#000" stroke-width="0.55">**</text>
<path d="M847.00 503.20V493.75H888.75V503.20" fill="none" stroke="#000" stroke-width="2.5" stroke-linejoin="round"/>
<text transform="translate(843.75 496.07)" x="-0.38" font-size="25.5" letter-spacing="2.621" stroke="#000" stroke-width="0.55">****</text>
<path d="M931.25 510.50V500.40H973.00V510.50" fill="none" stroke="#000" stroke-width="2.5" stroke-linejoin="round"/>
<text transform="translate(935.75 503.77)" x="-0.38" font-size="25.5" letter-spacing="2.965" stroke="#000" stroke-width="0.55">***</text>
<rect x="629.35" y="397.35" width="26.90" height="12.80" fill="#A3044F" stroke="#000" stroke-width="3.5"/>
<text transform="translate(671.75 409.50)" x="-1.05" font-size="21" letter-spacing="1.341" stroke="#000" stroke-width="0.35">Control</text>
<rect x="629.35" y="418.75" width="26.90" height="12.70" fill="#008207" stroke="#000" stroke-width="3.5"/>
<text transform="translate(671.75 431.25)" x="-1.68" font-size="21" letter-spacing="1.081" stroke="#000" stroke-width="0.35">Propofol</text>
<rect x="629.35" y="439.75" width="26.90" height="13.40" fill="#0000CB" stroke="#000" stroke-width="3.5"/>
<text transform="translate(671.75 452.50)" x="-1.68" font-size="21" letter-spacing="0.672" stroke="#000" stroke-width="0.35">Propofol+anti-miR-NC</text>
<rect x="629.35" y="460.55" width="26.90" height="12.70" fill="#7A089B" stroke="#000" stroke-width="3.5"/>
<text transform="translate(671.75 473.75)" x="-1.68" font-size="21" letter-spacing="0.556" stroke="#000" stroke-width="0.35">Propofol+anti-miR-153-3p</text>
<text transform="translate(1001.30 408.00)" x="-1.65" font-size="33" font-weight="bold" letter-spacing="0.530">(g)</text>
<text transform="translate(1051.90 747.30) rotate(-90) scale(0.950 1)" x="-1.96" font-size="24.5" letter-spacing="1.581" stroke="#000" stroke-width="0.8">Number of invaded cells</text>
<line x1="1104.80" y1="481.35" x2="1104.80" y2="737.20" stroke="#000" stroke-width="2.4"/>
<line x1="1098.20" y1="736.00" x2="1487.00" y2="736.00" stroke="#000" stroke-width="2.6999999999999997"/>
<line x1="1097.30" y1="482.40" x2="1104.80" y2="482.40" stroke="#000" stroke-width="2.1"/>
<text transform="translate(1064.18 488.88) scale(0.940 1)" x="-1.20" font-size="20" font-weight="bold">150</text>
<line x1="1097.30" y1="567.00" x2="1104.80" y2="567.00" stroke="#000" stroke-width="2.1"/>
<text transform="translate(1064.18 573.48) scale(0.940 1)" x="-1.20" font-size="20" font-weight="bold">100</text>
<line x1="1097.30" y1="651.50" x2="1104.80" y2="651.50" stroke="#000" stroke-width="2.1"/>
<text transform="translate(1074.05 657.98) scale(0.940 1)" x="-0.60" font-size="20" font-weight="bold">50</text>
<line x1="1097.30" y1="736.00" x2="1104.80" y2="736.00" stroke="#000" stroke-width="2.1"/>
<text transform="translate(1084.67 742.48) scale(0.940 1)" x="-0.80" font-size="20" font-weight="bold">0</text>
<line x1="1196.00" y1="736.00" x2="1196.00" y2="743.30" stroke="#000" stroke-width="2.1999999999999997"/>
<line x1="1394.10" y1="736.00" x2="1394.10" y2="743.30" stroke="#000" stroke-width="2.1999999999999997"/>
<text transform="translate(1161.25 768.20)" x="-1.50" font-size="23" font-weight="bold" letter-spacing="1.266">H1299</text>
<text transform="translate(1365.10 768.20)" x="-0.58" font-size="23" font-weight="bold" letter-spacing="1.137">A549</text>
<line x1="1133.30" y1="520.90" x2="1133.30" y2="542.10" stroke="#000" stroke-width="2.8000000000000003"/>
<line x1="1126.50" y1="520.90" x2="1140.10" y2="520.90" stroke="#000" stroke-width="2.6"/>
<rect x="1118.95" y="542.85" width="28.70" height="193.15" fill="#A3044F" stroke="#000" stroke-width="3.5"/>
<rect x="1117.20" y="541.10" width="32.20" height="3.8" fill="#000"/>
<line x1="1176.00" y1="620.30" x2="1176.00" y2="633.60" stroke="#000" stroke-width="2.8000000000000003"/>
<line x1="1169.20" y1="620.30" x2="1182.80" y2="620.30" stroke="#000" stroke-width="2.6"/>
<rect x="1161.75" y="634.35" width="28.50" height="101.65" fill="#008207" stroke="#000" stroke-width="3.5"/>
<rect x="1160.00" y="632.60" width="32.00" height="3.8" fill="#000"/>
<line x1="1218.10" y1="624.70" x2="1218.10" y2="636.20" stroke="#000" stroke-width="2.8000000000000003"/>
<line x1="1211.30" y1="624.70" x2="1224.90" y2="624.70" stroke="#000" stroke-width="2.6"/>
<rect x="1203.85" y="636.95" width="28.50" height="99.05" fill="#0000CB" stroke="#000" stroke-width="3.5"/>
<rect x="1202.10" y="635.20" width="32.00" height="3.8" fill="#000"/>
<line x1="1260.20" y1="571.20" x2="1260.20" y2="584.20" stroke="#000" stroke-width="2.8000000000000003"/>
<line x1="1253.40" y1="571.20" x2="1267.00" y2="571.20" stroke="#000" stroke-width="2.6"/>
<rect x="1246.25" y="584.95" width="27.90" height="151.05" fill="#7A089B" stroke="#000" stroke-width="3.5"/>
<rect x="1244.50" y="583.20" width="31.40" height="3.8" fill="#000"/>
<line x1="1330.80" y1="522.30" x2="1330.80" y2="543.20" stroke="#000" stroke-width="2.8000000000000003"/>
<line x1="1324.00" y1="522.30" x2="1337.60" y2="522.30" stroke="#000" stroke-width="2.6"/>
<rect x="1316.85" y="543.95" width="27.90" height="192.05" fill="#A3044F" stroke="#000" stroke-width="3.5"/>
<rect x="1315.10" y="542.20" width="31.40" height="3.8" fill="#000"/>
<line x1="1373.15" y1="639.80" x2="1373.15" y2="652.50" stroke="#000" stroke-width="2.8000000000000003"/>
<line x1="1366.35" y1="639.80" x2="1379.95" y2="639.80" stroke="#000" stroke-width="2.6"/>
<rect x="1359.25" y="653.25" width="27.80" height="82.75" fill="#008207" stroke="#000" stroke-width="3.5"/>
<rect x="1357.50" y="651.50" width="31.30" height="3.8" fill="#000"/>
<line x1="1415.85" y1="637.00" x2="1415.85" y2="648.80" stroke="#000" stroke-width="2.8000000000000003"/>
<line x1="1409.05" y1="637.00" x2="1422.65" y2="637.00" stroke="#000" stroke-width="2.6"/>
<rect x="1401.75" y="649.55" width="28.20" height="86.45" fill="#0000CB" stroke="#000" stroke-width="3.5"/>
<rect x="1400.00" y="647.80" width="31.70" height="3.8" fill="#000"/>
<line x1="1458.30" y1="568.80" x2="1458.30" y2="579.70" stroke="#000" stroke-width="2.8000000000000003"/>
<line x1="1451.50" y1="568.80" x2="1465.10" y2="568.80" stroke="#000" stroke-width="2.6"/>
<rect x="1444.35" y="580.45" width="27.90" height="155.55" fill="#7A089B" stroke="#000" stroke-width="3.5"/>
<rect x="1442.60" y="578.70" width="31.40" height="3.8" fill="#000"/>
<path d="M1134.45 517.50V507.50H1177.35V517.50" fill="none" stroke="#000" stroke-width="2.5" stroke-linejoin="round"/>
<text transform="translate(1131.90 508.87)" x="-0.38" font-size="25.5" letter-spacing="2.971" stroke="#000" stroke-width="0.55">****</text>
<path d="M1217.85 567.10V557.10H1260.15V567.10" fill="none" stroke="#000" stroke-width="2.5" stroke-linejoin="round"/>
<text transform="translate(1226.25 559.47)" x="-0.38" font-size="25.5" letter-spacing="3.375" stroke="#000" stroke-width="0.55">**</text>
<path d="M1331.55 518.90V508.80H1373.85V518.90" fill="none" stroke="#000" stroke-width="2.5" stroke-linejoin="round"/>
<text transform="translate(1328.10 510.57)" x="-0.38" font-size="25.5" letter-spacing="2.971" stroke="#000" stroke-width="0.55">****</text>
<path d="M1416.65 566.40V557.10H1459.25V566.40" fill="none" stroke="#000" stroke-width="2.5" stroke-linejoin="round"/>
<text transform="translate(1419.00 558.77)" x="-0.38" font-size="25.5" letter-spacing="2.965" stroke="#000" stroke-width="0.55">***</text>
<rect x="1113.45" y="400.95" width="26.80" height="12.30" fill="#A3044F" stroke="#000" stroke-width="3.5"/>
<text transform="translate(1155.50 413.25)" x="-1.05" font-size="21" letter-spacing="1.341" stroke="#000" stroke-width="0.35">Control</text>
<rect x="1113.45" y="423.45" width="26.80" height="12.40" fill="#008207" stroke="#000" stroke-width="3.5"/>
<text transform="translate(1156.25 435.75)" x="-1.68" font-size="21" letter-spacing="1.117" stroke="#000" stroke-width="0.35">Propofol</text>
<rect x="1113.45" y="444.95" width="26.80" height="12.80" fill="#0000CB" stroke="#000" stroke-width="3.5"/>
<text transform="translate(1156.25 457.00)" x="-1.68" font-size="21" letter-spacing="0.698" stroke="#000" stroke-width="0.35">Propofol+anti-miR-NC</text>
<rect x="1113.45" y="466.75" width="26.80" height="12.80" fill="#7A089B" stroke="#000" stroke-width="3.5"/>
<text transform="translate(1156.25 478.75)" x="-1.68" font-size="21" letter-spacing="0.589" stroke="#000" stroke-width="0.35">Propofol+anti-miR-153-3p</text>
<text transform="translate(1500.00 408.00)" x="-1.65" font-size="33" font-weight="bold" letter-spacing="0.530">(h)</text>
<linearGradient id="sg1" x1="0" y1="0" x2="0" y2="1"><stop offset="0" stop-color="rgb(204,204,204)"/><stop offset="0.45" stop-color="rgb(196,196,196)"/><stop offset="1" stop-color="rgb(199,199,199)"/></linearGradient>
<rect x="1643.0" y="461.2" width="260.8" height="50.1" fill="url(#sg1)"/>
<linearGradient id="sg2" x1="0" y1="0" x2="0" y2="1"><stop offset="0" stop-color="rgb(203,203,203)"/><stop offset="0.45" stop-color="rgb(195,195,195)"/><stop offset="1" stop-color="rgb(198,198,198)"/></linearGradient>
<rect x="1643.0" y="517.5" width="260.8" height="50.0" fill="url(#sg2)"/>
<linearGradient id="sg3" x1="0" y1="0" x2="0" y2="1"><stop offset="0" stop-color="rgb(206,206,206)"/><stop offset="0.45" stop-color="rgb(198,198,198)"/><stop offset="1" stop-color="rgb(201,201,201)"/></linearGradient>
<rect x="1640.5" y="575.0" width="262.5" height="48.8" fill="url(#sg3)"/>
<clipPath id="bc3"><rect x="1643.0" y="461.2" width="260.8" height="50.1"/><rect x="1643.0" y="517.5" width="260.8" height="50.0"/><rect x="1640.5" y="575.0" width="262.5" height="48.8"/></clipPath>
<g clip-path="url(#bc3)"><g filter="url(#halo)" fill="#000" opacity="0.22">
<path d="M1650.8 478.8C1650.8 473.7 1655.1 472.0 1663.3 472.0H1690.5C1698.6 472.0 1703.0 473.7 1703.0 478.8C1703.0 483.8 1698.6 485.5 1690.5 485.5H1663.3C1655.1 485.5 1650.8 483.8 1650.8 478.8Z"/>
<path d="M1710.8 481.0C1710.8 474.1 1715.3 471.8 1723.9 471.8H1752.4C1760.9 471.8 1765.5 474.1 1765.5 481.0C1765.5 487.9 1760.9 490.2 1752.4 490.2H1723.9C1715.3 490.2 1710.8 487.9 1710.8 481.0Z"/>
<path d="M1770.8 481.2C1770.8 474.3 1775.3 472.0 1783.9 472.0H1812.4C1820.9 472.0 1825.5 474.3 1825.5 481.2C1825.5 488.2 1820.9 490.5 1812.4 490.5H1783.9C1775.3 490.5 1770.8 488.2 1770.8 481.2Z"/>
<path d="M1832.0 479.0C1832.0 473.2 1836.6 471.2 1845.1 471.2H1873.6C1882.2 471.2 1886.8 473.2 1886.8 479.0C1886.8 484.8 1882.2 486.8 1873.6 486.8H1845.1C1836.6 486.8 1832.0 484.8 1832.0 479.0Z"/>
<path d="M1650.8 536.0C1650.8 529.4 1655.3 527.2 1663.9 527.2H1692.4C1700.9 527.2 1705.5 529.4 1705.5 536.0C1705.5 542.6 1700.9 544.8 1692.4 544.8H1663.9C1655.3 544.8 1650.8 542.6 1650.8 536.0Z"/>
<path d="M1713.2 536.6C1713.2 531.5 1717.4 529.9 1725.2 529.9H1751.1C1758.8 529.9 1763.0 531.5 1763.0 536.6C1763.0 541.7 1758.8 543.4 1751.1 543.4H1725.2C1717.4 543.4 1713.2 541.7 1713.2 536.6Z"/>
<path d="M1772.0 536.6C1772.0 531.5 1776.4 529.9 1784.5 529.9H1811.7C1819.9 529.9 1824.2 531.5 1824.2 536.6C1824.2 541.7 1819.9 543.4 1811.7 543.4H1784.5C1776.4 543.4 1772.0 541.7 1772.0 536.6Z"/>
<path d="M1833.2 538.5C1833.2 532.3 1837.7 530.2 1846.1 530.2H1873.9C1882.3 530.2 1886.8 532.3 1886.8 538.5C1886.8 544.7 1882.3 546.8 1873.9 546.8H1846.1C1837.7 546.8 1833.2 544.7 1833.2 538.5Z"/>
<path d="M1654.5 600.2C1654.5 593.7 1659.0 591.5 1667.3 591.5H1695.2C1703.5 591.5 1708.0 593.7 1708.0 600.2C1708.0 606.8 1703.5 609.0 1695.2 609.0H1667.3C1659.0 609.0 1654.5 606.8 1654.5 600.2Z"/>
<path d="M1715.8 600.5C1715.8 594.3 1720.1 592.2 1728.3 592.2H1755.5C1763.6 592.2 1768.0 594.3 1768.0 600.5C1768.0 606.7 1763.6 608.8 1755.5 608.8H1728.3C1720.1 608.8 1715.8 606.7 1715.8 600.5Z"/>
<path d="M1777.0 601.0C1777.0 594.8 1781.5 592.8 1789.8 592.8H1817.7C1826.0 592.8 1830.5 594.8 1830.5 601.0C1830.5 607.2 1826.0 609.2 1817.7 609.2H1789.8C1781.5 609.2 1777.0 607.2 1777.0 601.0Z"/>
<path d="M1838.2 601.5C1838.2 595.3 1842.7 593.2 1851.1 593.2H1878.9C1887.3 593.2 1891.8 595.3 1891.8 601.5C1891.8 607.7 1887.3 609.8 1878.9 609.8H1851.1C1842.7 609.8 1838.2 607.7 1838.2 601.5Z"/>
</g></g>
<g filter="url(#bl)" fill="#050505">
<path d="M1653.2 477.8C1653.2 474.7 1657.2 473.7 1664.6 473.7H1689.2C1696.5 473.7 1700.5 474.7 1700.5 477.8C1700.5 480.8 1696.5 481.8 1689.2 481.8H1664.6C1657.2 481.8 1653.2 480.8 1653.2 477.8Z"/>
<path d="M1713.2 480.0C1713.2 475.1 1717.4 473.4 1725.2 473.4H1751.1C1758.8 473.4 1763.0 475.1 1763.0 480.0C1763.0 484.9 1758.8 486.6 1751.1 486.6H1725.2C1717.4 486.6 1713.2 484.9 1713.2 480.0Z"/>
<path d="M1773.2 480.2C1773.2 475.3 1777.4 473.7 1785.2 473.7H1811.1C1818.8 473.7 1823.0 475.3 1823.0 480.2C1823.0 485.2 1818.8 486.8 1811.1 486.8H1785.2C1777.4 486.8 1773.2 485.2 1773.2 480.2Z"/>
<path d="M1834.5 478.0C1834.5 474.2 1838.7 472.9 1846.4 472.9H1872.3C1880.1 472.9 1884.2 474.2 1884.2 478.0C1884.2 481.8 1880.1 483.1 1872.3 483.1H1846.4C1838.7 483.1 1834.5 481.8 1834.5 478.0Z"/>
<path d="M1653.2 535.0C1653.2 530.5 1657.4 529.0 1665.2 529.0H1691.1C1698.8 529.0 1703.0 530.5 1703.0 535.0C1703.0 539.5 1698.8 541.0 1691.1 541.0H1665.2C1657.4 541.0 1653.2 539.5 1653.2 535.0Z"/>
<path d="M1715.8 535.6C1715.8 532.6 1719.5 531.6 1726.5 531.6H1749.8C1756.7 531.6 1760.5 532.6 1760.5 535.6C1760.5 538.6 1756.7 539.6 1749.8 539.6H1726.5C1719.5 539.6 1715.8 538.6 1715.8 535.6Z"/>
<path d="M1774.5 535.6C1774.5 532.6 1778.5 531.6 1785.8 531.6H1810.4C1817.8 531.6 1821.8 532.6 1821.8 535.6C1821.8 538.6 1817.8 539.6 1810.4 539.6H1785.8C1778.5 539.6 1774.5 538.6 1774.5 535.6Z"/>
<path d="M1835.8 537.5C1835.8 533.3 1839.8 532.0 1847.4 532.0H1872.6C1880.2 532.0 1884.2 533.3 1884.2 537.5C1884.2 541.7 1880.2 543.0 1872.6 543.0H1847.4C1839.8 543.0 1835.8 541.7 1835.8 537.5Z"/>
<path d="M1657.0 599.2C1657.0 594.7 1661.1 593.2 1668.6 593.2H1693.9C1701.4 593.2 1705.5 594.7 1705.5 599.2C1705.5 603.8 1701.4 605.3 1693.9 605.3H1668.6C1661.1 605.3 1657.0 603.8 1657.0 599.2Z"/>
<path d="M1718.2 599.5C1718.2 595.3 1722.2 594.0 1729.6 594.0H1754.2C1761.5 594.0 1765.5 595.3 1765.5 599.5C1765.5 603.7 1761.5 605.0 1754.2 605.0H1729.6C1722.2 605.0 1718.2 603.7 1718.2 599.5Z"/>
<path d="M1779.5 600.0C1779.5 595.8 1783.6 594.5 1791.1 594.5H1816.4C1823.9 594.5 1828.0 595.8 1828.0 600.0C1828.0 604.2 1823.9 605.5 1816.4 605.5H1791.1C1783.6 605.5 1779.5 604.2 1779.5 600.0Z"/>
<path d="M1840.8 600.5C1840.8 596.3 1844.8 595.0 1852.4 595.0H1877.6C1885.2 595.0 1889.2 596.3 1889.2 600.5C1889.2 604.7 1885.2 606.0 1877.6 606.0H1852.4C1844.8 606.0 1840.8 604.7 1840.8 600.5Z"/>
</g>
<text transform="translate(1550.00 478.75)" x="-1.03" font-size="20.5" letter-spacing="0.514" stroke="#000" stroke-width="0.3">Cleaved-</text>
<text transform="translate(1550.00 504.50)" x="-0.82" font-size="20.5" letter-spacing="-0.215" stroke="#000" stroke-width="0.3">caspase-3</text>
<text transform="translate(1580.00 554.50)" x="-1.64" font-size="20.5" letter-spacing="0.272" stroke="#000" stroke-width="0.3">MMP9</text>
<text transform="translate(1567.00 608.00)" x="-1.03" font-size="20.5" letter-spacing="-0.053" stroke="#000" stroke-width="0.3">GAPDH</text>
<text transform="translate(1907.50 493.75)" x="-1.54" font-size="20.5" letter-spacing="0.133" stroke="#000" stroke-width="0.3">17Kd</text>
<text transform="translate(1911.25 557.50)" x="-0.92" font-size="20.5" letter-spacing="0.178" stroke="#000" stroke-width="0.3">92Kd</text>
<text transform="translate(1909.50 612.50)" x="-0.82" font-size="20.5" letter-spacing="0.061" stroke="#000" stroke-width="0.3">37Kd</text>
<text transform="translate(1644.37 692.20) rotate(-45)" font-size="20" font-weight="bold" letter-spacing="1.235">Control</text>
<text transform="translate(1695.04 697.79) rotate(-45)" font-size="20" font-weight="bold" letter-spacing="0.585">Propofol</text>
<text transform="translate(1662.55 790.35) rotate(-45)" font-size="20" font-weight="bold" letter-spacing="0.513">Propofol+anti-miR-NC</text>
<text transform="translate(1706.29 813.85) rotate(-45)" font-size="20" font-weight="bold" letter-spacing="0.367">Propofol+anti-miR-153-3p</text>
<text transform="translate(3.75 837.90)" x="-1.65" font-size="33" font-weight="bold" letter-spacing="0.432">(i)</text>
<text transform="translate(31.00 980.50) rotate(-90) scale(0.950 1)" x="-1.50" font-size="23" font-weight="bold" letter-spacing="0.478">Relative</text>
<text transform="translate(58.40 1041.70) rotate(-90) scale(0.950 1)" x="-1.50" font-size="23" font-weight="bold" letter-spacing="0.835">protein expression</text>
<line x1="103.00" y1="818.50" x2="103.00" y2="1059.65" stroke="#000" stroke-width="2.1"/>
<line x1="95.70" y1="1058.60" x2="462.90" y2="1058.60" stroke="#000" stroke-width="2.4"/>
<line x1="95.50" y1="819.40" x2="103.00" y2="819.40" stroke="#000" stroke-width="1.8"/>
<text transform="translate(70.07 825.36) scale(0.940 1)" x="-0.65" font-size="18.5" font-weight="bold">2.5</text>
<line x1="95.50" y1="867.60" x2="103.00" y2="867.60" stroke="#000" stroke-width="1.8"/>
<text transform="translate(70.33 873.56) scale(0.940 1)" x="-0.65" font-size="18.5" font-weight="bold">2.0</text>
<line x1="95.50" y1="915.40" x2="103.00" y2="915.40" stroke="#000" stroke-width="1.8"/>
<text transform="translate(70.51 921.36) scale(0.940 1)" x="-1.11" font-size="18.5" font-weight="bold">1.5</text>
<line x1="95.50" y1="963.10" x2="103.00" y2="963.10" stroke="#000" stroke-width="1.8"/>
<text transform="translate(70.77 969.06) scale(0.940 1)" x="-1.11" font-size="18.5" font-weight="bold">1.0</text>
<line x1="95.50" y1="1011.00" x2="103.00" y2="1011.00" stroke="#000" stroke-width="1.8"/>
<text transform="translate(70.16 1016.96) scale(0.940 1)" x="-0.74" font-size="18.5" font-weight="bold">0.5</text>
<line x1="95.50" y1="1058.60" x2="103.00" y2="1058.60" stroke="#000" stroke-width="1.8"/>
<text transform="translate(70.42 1064.56) scale(0.940 1)" x="-0.74" font-size="18.5" font-weight="bold">0.0</text>
<line x1="189.20" y1="1058.60" x2="189.20" y2="1065.90" stroke="#000" stroke-width="1.9000000000000001"/>
<line x1="374.40" y1="1058.60" x2="374.40" y2="1065.90" stroke="#000" stroke-width="1.9000000000000001"/>
<text transform="translate(85.00 1088.50)" x="-0.90" font-size="22.5" font-weight="bold" letter-spacing="0.411">Cleaved-caspase-3</text>
<text transform="translate(337.98 1088.50)" x="-1.46" font-size="22.5" font-weight="bold" letter-spacing="1.158">MMP9</text>
<line x1="130.00" y1="958.70" x2="130.00" y2="962.10" stroke="#000" stroke-width="2.8000000000000003"/>
<line x1="123.50" y1="958.70" x2="136.50" y2="958.70" stroke="#000" stroke-width="2.6"/>
<rect x="116.75" y="962.85" width="26.50" height="95.75" fill="#A3044F" stroke="#000" stroke-width="3.5"/>
<rect x="115.00" y="961.10" width="30.00" height="3.8" fill="#000"/>
<line x1="170.00" y1="868.50" x2="170.00" y2="876.20" stroke="#000" stroke-width="2.8000000000000003"/>
<line x1="163.50" y1="868.50" x2="176.50" y2="868.50" stroke="#000" stroke-width="2.6"/>
<rect x="156.75" y="876.95" width="26.50" height="181.65" fill="#008207" stroke="#000" stroke-width="3.5"/>
<rect x="155.00" y="875.20" width="30.00" height="3.8" fill="#000"/>
<line x1="209.70" y1="855.60" x2="209.70" y2="869.20" stroke="#000" stroke-width="2.8000000000000003"/>
<line x1="203.20" y1="855.60" x2="216.20" y2="855.60" stroke="#000" stroke-width="2.6"/>
<rect x="196.75" y="869.95" width="25.90" height="188.65" fill="#0000CB" stroke="#000" stroke-width="3.5"/>
<rect x="195.00" y="868.20" width="29.40" height="3.8" fill="#000"/>
<line x1="249.80" y1="918.20" x2="249.80" y2="929.60" stroke="#000" stroke-width="2.8000000000000003"/>
<line x1="243.30" y1="918.20" x2="256.30" y2="918.20" stroke="#000" stroke-width="2.6"/>
<rect x="236.75" y="930.35" width="26.10" height="128.25" fill="#7A089B" stroke="#000" stroke-width="3.5"/>
<rect x="235.00" y="928.60" width="29.60" height="3.8" fill="#000"/>
<line x1="316.05" y1="953.20" x2="316.05" y2="962.10" stroke="#000" stroke-width="2.8000000000000003"/>
<line x1="309.55" y1="953.20" x2="322.55" y2="953.20" stroke="#000" stroke-width="2.6"/>
<rect x="303.05" y="962.85" width="26.00" height="95.75" fill="#A3044F" stroke="#000" stroke-width="3.5"/>
<rect x="301.30" y="961.10" width="29.50" height="3.8" fill="#000"/>
<line x1="355.45" y1="1004.90" x2="355.45" y2="1009.00" stroke="#000" stroke-width="2.8000000000000003"/>
<line x1="348.95" y1="1004.90" x2="361.95" y2="1004.90" stroke="#000" stroke-width="2.6"/>
<rect x="342.45" y="1009.75" width="26.00" height="48.85" fill="#008207" stroke="#000" stroke-width="3.5"/>
<rect x="340.70" y="1008.00" width="29.50" height="3.8" fill="#000"/>
<line x1="395.60" y1="1002.30" x2="395.60" y2="1005.70" stroke="#000" stroke-width="2.8000000000000003"/>
<line x1="389.10" y1="1002.30" x2="402.10" y2="1002.30" stroke="#000" stroke-width="2.6"/>
<rect x="382.45" y="1006.45" width="26.30" height="52.15" fill="#0000CB" stroke="#000" stroke-width="3.5"/>
<rect x="380.70" y="1004.70" width="29.80" height="3.8" fill="#000"/>
<line x1="435.95" y1="977.50" x2="435.95" y2="982.00" stroke="#000" stroke-width="2.8000000000000003"/>
<line x1="429.45" y1="977.50" x2="442.45" y2="977.50" stroke="#000" stroke-width="2.6"/>
<rect x="422.95" y="982.75" width="26.00" height="75.85" fill="#7A089B" stroke="#000" stroke-width="3.5"/>
<rect x="421.20" y="981.00" width="29.50" height="3.8" fill="#000"/>
<path d="M128.75 866.00V856.40H171.25V866.00" fill="none" stroke="#000" stroke-width="2.5" stroke-linejoin="round"/>
<text transform="translate(127.50 859.57)" x="-0.38" font-size="25.5" letter-spacing="2.037" stroke="#000" stroke-width="0.55">****</text>
<path d="M210.00 851.50V841.90H251.25V851.50" fill="none" stroke="#000" stroke-width="2.5" stroke-linejoin="round"/>
<text transform="translate(210.00 845.97)" x="-0.38" font-size="25.5" letter-spacing="2.204" stroke="#000" stroke-width="0.55">****</text>
<path d="M315.75 950.50V940.90H357.00V950.50" fill="none" stroke="#000" stroke-width="2.5" stroke-linejoin="round"/>
<text transform="translate(320.00 943.57)" x="-0.38" font-size="25.5" letter-spacing="2.340" stroke="#000" stroke-width="0.55">***</text>
<path d="M395.00 973.70V963.90H436.25V973.70" fill="none" stroke="#000" stroke-width="2.5" stroke-linejoin="round"/>
<text transform="translate(410.00 967.37) scale(1.089 1)" x="-0.38" font-size="25.5" stroke="#000" stroke-width="0.55">*</text>
<text transform="translate(258.50 834.20)" x="-1.50" font-size="23" font-weight="bold" letter-spacing="0.141">H1299</text>
<rect x="101.75" y="1098.95" width="25.30" height="11.90" fill="#A3044F" stroke="#000" stroke-width="3.5"/>
<text transform="translate(141.25 1110.50)" x="-0.98" font-size="19.5" letter-spacing="1.700" stroke="#000" stroke-width="0.35">Control</text>
<rect x="101.75" y="1121.15" width="25.30" height="12.60" fill="#008207" stroke="#000" stroke-width="3.5"/>
<text transform="translate(142.00 1133.00)" x="-1.56" font-size="19.5" letter-spacing="1.349" stroke="#000" stroke-width="0.35">Propofol</text>
<rect x="101.75" y="1144.25" width="25.30" height="12.20" fill="#0000CB" stroke="#000" stroke-width="3.5"/>
<text transform="translate(142.00 1155.50)" x="-1.56" font-size="19.5" letter-spacing="0.831" stroke="#000" stroke-width="0.35">Propofol+anti-miR-NC</text>
<rect x="101.75" y="1166.75" width="25.30" height="12.50" fill="#7A089B" stroke="#000" stroke-width="3.5"/>
<text transform="translate(142.00 1178.00)" x="-1.56" font-size="19.5" letter-spacing="0.688" stroke="#000" stroke-width="0.35">Propofol+anti-miR-153-3p</text>
<text transform="translate(518.00 837.90)" x="-1.65" font-size="33" font-weight="bold" letter-spacing="0.207">(j)</text>
<linearGradient id="sg4" x1="0" y1="0" x2="0" y2="1"><stop offset="0" stop-color="rgb(194,194,194)"/><stop offset="0.45" stop-color="rgb(186,186,186)"/><stop offset="1" stop-color="rgb(189,189,189)"/></linearGradient>
<rect x="678.8" y="864.0" width="260.0" height="50.2" fill="url(#sg4)"/>
<linearGradient id="sg5" x1="0" y1="0" x2="0" y2="1"><stop offset="0" stop-color="rgb(201,201,201)"/><stop offset="0.45" stop-color="rgb(193,193,193)"/><stop offset="1" stop-color="rgb(196,196,196)"/></linearGradient>
<rect x="678.8" y="920.0" width="260.0" height="49.7" fill="url(#sg5)"/>
<linearGradient id="sg6" x1="0" y1="0" x2="0" y2="1"><stop offset="0" stop-color="rgb(211,211,211)"/><stop offset="0.45" stop-color="rgb(203,203,203)"/><stop offset="1" stop-color="rgb(206,206,206)"/></linearGradient>
<rect x="678.8" y="977.5" width="260.0" height="50.0" fill="url(#sg6)"/>
<clipPath id="bc6"><rect x="678.8" y="864.0" width="260.0" height="50.2"/><rect x="678.8" y="920.0" width="260.0" height="49.7"/><rect x="678.8" y="977.5" width="260.0" height="50.0"/></clipPath>
<g clip-path="url(#bc6)"><g filter="url(#halo)" fill="#000" opacity="0.22">
<path d="M692.0 890.5C692.0 885.4 696.4 883.8 704.5 883.8H731.5C739.6 883.8 744.0 885.4 744.0 890.5C744.0 895.6 739.6 897.2 731.5 897.2H704.5C696.4 897.2 692.0 895.6 692.0 890.5Z" transform="rotate(-2 718.0 890.5)"/>
<path d="M752.0 893.0C752.0 885.9 756.8 883.5 765.7 883.5H795.3C804.2 883.5 809.0 885.9 809.0 893.0C809.0 900.1 804.2 902.5 795.3 902.5H765.7C756.8 902.5 752.0 900.1 752.0 893.0Z"/>
<path d="M812.0 893.5C812.0 886.8 816.8 884.5 825.7 884.5H855.3C864.2 884.5 869.0 886.8 869.0 893.5C869.0 900.2 864.2 902.5 855.3 902.5H825.7C816.8 902.5 812.0 900.2 812.0 893.5Z"/>
<path d="M874.0 895.5C874.0 889.9 878.6 888.0 887.2 888.0H915.8C924.4 888.0 929.0 889.9 929.0 895.5C929.0 901.1 924.4 903.0 915.8 903.0H887.2C878.6 903.0 874.0 901.1 874.0 895.5Z" transform="rotate(2 901.5 895.5)"/>
<path d="M693.2 950.2C693.2 943.7 697.6 941.5 705.8 941.5H733.0C741.1 941.5 745.5 943.7 745.5 950.2C745.5 956.8 741.1 959.0 733.0 959.0H705.8C697.6 959.0 693.2 956.8 693.2 950.2Z" transform="rotate(1 719.4 950.2)"/>
<path d="M754.5 952.4C754.5 947.3 758.8 945.6 766.7 945.6H793.3C801.2 945.6 805.5 947.3 805.5 952.4C805.5 957.5 801.2 959.1 793.3 959.1H766.7C758.8 959.1 754.5 957.5 754.5 952.4Z" transform="rotate(2 780.0 952.4)"/>
<path d="M817.0 953.4C817.0 948.3 821.2 946.6 828.9 946.6H854.8C862.6 946.6 866.8 948.3 866.8 953.4C866.8 958.5 862.6 960.1 854.8 960.1H828.9C821.2 960.1 817.0 958.5 817.0 953.4Z" transform="rotate(1 841.9 953.4)"/>
<path d="M877.0 956.5C877.0 949.9 881.4 947.8 889.5 947.8H916.7C924.9 947.8 929.2 949.9 929.2 956.5C929.2 963.1 924.9 965.2 916.7 965.2H889.5C881.4 965.2 877.0 963.1 877.0 956.5Z" transform="rotate(1 903.1 956.5)"/>
<path d="M693.2 1008.2C693.2 1001.9 697.6 999.8 705.8 999.8H733.0C741.1 999.8 745.5 1001.9 745.5 1008.2C745.5 1014.6 741.1 1016.8 733.0 1016.8H705.8C697.6 1016.8 693.2 1014.6 693.2 1008.2Z"/>
<path d="M755.8 1009.0C755.8 1002.8 760.0 1000.8 768.0 1000.8H794.5C802.5 1000.8 806.8 1002.8 806.8 1009.0C806.8 1015.2 802.5 1017.2 794.5 1017.2H768.0C760.0 1017.2 755.8 1015.2 755.8 1009.0Z"/>
<path d="M817.0 1009.0C817.0 1002.8 821.3 1000.8 829.2 1000.8H855.8C863.7 1000.8 868.0 1002.8 868.0 1009.0C868.0 1015.2 863.7 1017.2 855.8 1017.2H829.2C821.3 1017.2 817.0 1015.2 817.0 1009.0Z"/>
<path d="M877.0 1009.0C877.0 1002.8 881.4 1000.8 889.5 1000.8H916.7C924.9 1000.8 929.2 1002.8 929.2 1009.0C929.2 1015.2 924.9 1017.2 916.7 1017.2H889.5C881.4 1017.2 877.0 1015.2 877.0 1009.0Z"/>
</g></g>
<g filter="url(#bl)" fill="#050505">
<path d="M694.5 889.5C694.5 886.5 698.4 885.5 705.8 885.5H730.2C737.6 885.5 741.5 886.5 741.5 889.5C741.5 892.5 737.6 893.5 730.2 893.5H705.8C698.4 893.5 694.5 892.5 694.5 889.5Z" transform="rotate(-2 718.0 889.5)"/>
<path d="M754.5 892.0C754.5 886.9 758.9 885.2 767.0 885.2H794.0C802.1 885.2 806.5 886.9 806.5 892.0C806.5 897.1 802.1 898.8 794.0 898.8H767.0C758.9 898.8 754.5 897.1 754.5 892.0Z"/>
<path d="M814.5 892.5C814.5 887.8 818.9 886.2 827.0 886.2H854.0C862.1 886.2 866.5 887.8 866.5 892.5C866.5 897.2 862.1 898.8 854.0 898.8H827.0C818.9 898.8 814.5 897.2 814.5 892.5Z"/>
<path d="M876.5 894.5C876.5 890.9 880.7 889.7 888.5 889.7H914.5C922.3 889.7 926.5 890.9 926.5 894.5C926.5 898.1 922.3 899.3 914.5 899.3H888.5C880.7 899.3 876.5 898.1 876.5 894.5Z" transform="rotate(2 901.5 894.5)"/>
<path d="M695.8 949.2C695.8 944.7 699.7 943.2 707.1 943.2H731.7C739.0 943.2 743.0 944.7 743.0 949.2C743.0 953.8 739.0 955.3 731.7 955.3H707.1C699.7 955.3 695.8 953.8 695.8 949.2Z" transform="rotate(1 719.4 949.2)"/>
<path d="M757.0 951.4C757.0 948.4 760.9 947.4 768.0 947.4H792.0C799.1 947.4 803.0 948.4 803.0 951.4C803.0 954.4 799.1 955.4 792.0 955.4H768.0C760.9 955.4 757.0 954.4 757.0 951.4Z" transform="rotate(2 780.0 951.4)"/>
<path d="M819.5 952.4C819.5 949.4 823.3 948.4 830.2 948.4H853.5C860.5 948.4 864.2 949.4 864.2 952.4C864.2 955.4 860.5 956.4 853.5 956.4H830.2C823.3 956.4 819.5 955.4 819.5 952.4Z" transform="rotate(1 841.9 952.4)"/>
<path d="M879.5 955.5C879.5 951.0 883.5 949.5 890.8 949.5H915.4C922.8 949.5 926.8 951.0 926.8 955.5C926.8 960.0 922.8 961.5 915.4 961.5H890.8C883.5 961.5 879.5 960.0 879.5 955.5Z" transform="rotate(1 903.1 955.5)"/>
<path d="M695.8 1007.2C695.8 1002.9 699.7 1001.5 707.1 1001.5H731.7C739.0 1001.5 743.0 1002.9 743.0 1007.2C743.0 1011.6 739.0 1013.0 731.7 1013.0H707.1C699.7 1013.0 695.8 1011.6 695.8 1007.2Z"/>
<path d="M758.2 1008.0C758.2 1003.8 762.1 1002.5 769.3 1002.5H793.2C800.4 1002.5 804.2 1003.8 804.2 1008.0C804.2 1012.2 800.4 1013.5 793.2 1013.5H769.3C762.1 1013.5 758.2 1012.2 758.2 1008.0Z"/>
<path d="M819.5 1008.0C819.5 1003.8 823.4 1002.5 830.5 1002.5H854.5C861.6 1002.5 865.5 1003.8 865.5 1008.0C865.5 1012.2 861.6 1013.5 854.5 1013.5H830.5C823.4 1013.5 819.5 1012.2 819.5 1008.0Z"/>
<path d="M879.5 1008.0C879.5 1003.8 883.5 1002.5 890.8 1002.5H915.4C922.8 1002.5 926.8 1003.8 926.8 1008.0C926.8 1012.2 922.8 1013.5 915.4 1013.5H890.8C883.5 1013.5 879.5 1012.2 879.5 1008.0Z"/>
</g>
<text transform="translate(583.75 886.00)" x="-1.03" font-size="20.5" letter-spacing="0.442" stroke="#000" stroke-width="0.3">Cleaved-</text>
<text transform="translate(583.75 910.50)" x="-0.82" font-size="20.5" letter-spacing="-0.371" stroke="#000" stroke-width="0.3">caspase-3</text>
<text transform="translate(619.25 954.75)" x="-1.64" font-size="20.5" letter-spacing="0.106" stroke="#000" stroke-width="0.3">MMP9</text>
<text transform="translate(600.50 1008.75)" x="-1.03" font-size="20.5" letter-spacing="-0.178" stroke="#000" stroke-width="0.3">GAPDH</text>
<text transform="translate(945.00 895.75)" x="-1.54" font-size="20.5" letter-spacing="0.133" stroke="#000" stroke-width="0.3">17Kd</text>
<text transform="translate(948.25 959.25)" x="-0.92" font-size="20.5" letter-spacing="0.095" stroke="#000" stroke-width="0.3">92Kd</text>
<text transform="translate(946.75 1014.25)" x="-0.82" font-size="20.5" letter-spacing="0.144" stroke="#000" stroke-width="0.3">37Kd</text>
<text transform="translate(676.83 1097.75) rotate(-45)" font-size="20" font-weight="bold" letter-spacing="0.935">Control</text>
<text transform="translate(727.54 1105.29) rotate(-45)" font-size="20" font-weight="bold" letter-spacing="0.585">Propofol</text>
<text transform="translate(701.35 1198.55) rotate(-45)" font-size="20" font-weight="bold" letter-spacing="0.608">Propofol+anti-miR-NC</text>
<text transform="translate(746.90 1218.74) rotate(-45)" font-size="20" font-weight="bold" letter-spacing="0.180">Propofol+anti-miR-153-3p</text>
<text transform="translate(1046.70 984.00) rotate(-90) scale(0.950 1)" x="-1.50" font-size="23" font-weight="bold" letter-spacing="0.493">Relative</text>
<text transform="translate(1073.80 1043.30) rotate(-90) scale(0.950 1)" x="-1.50" font-size="23" font-weight="bold" letter-spacing="0.798">protein expression</text>
<line x1="1105.50" y1="821.30" x2="1105.50" y2="1062.55" stroke="#000" stroke-width="2.1"/>
<line x1="1098.10" y1="1061.50" x2="1465.30" y2="1061.50" stroke="#000" stroke-width="2.4"/>
<line x1="1098.00" y1="822.20" x2="1105.50" y2="822.20" stroke="#000" stroke-width="1.8"/>
<text transform="translate(1085.46 828.34) scale(0.940 1)" x="-0.48" font-size="19" font-weight="bold">3</text>
<line x1="1098.00" y1="901.90" x2="1105.50" y2="901.90" stroke="#000" stroke-width="1.8"/>
<text transform="translate(1085.73 908.04) scale(0.940 1)" x="-0.67" font-size="19" font-weight="bold">2</text>
<line x1="1098.00" y1="981.60" x2="1105.50" y2="981.60" stroke="#000" stroke-width="1.8"/>
<text transform="translate(1085.91 987.74) scale(0.940 1)" x="-1.14" font-size="19" font-weight="bold">1</text>
<line x1="1098.00" y1="1061.50" x2="1105.50" y2="1061.50" stroke="#000" stroke-width="1.8"/>
<text transform="translate(1085.82 1067.64) scale(0.940 1)" x="-0.76" font-size="19" font-weight="bold">0</text>
<line x1="1191.30" y1="1061.50" x2="1191.30" y2="1068.80" stroke="#000" stroke-width="1.9000000000000001"/>
<line x1="1377.00" y1="1061.50" x2="1377.00" y2="1068.80" stroke="#000" stroke-width="1.9000000000000001"/>
<text transform="translate(1087.50 1091.70)" x="-0.90" font-size="22.5" font-weight="bold" letter-spacing="0.380">Cleaved-caspase-3</text>
<text transform="translate(1340.53 1091.70)" x="-1.46" font-size="22.5" font-weight="bold" letter-spacing="0.992">MMP9</text>
<line x1="1131.95" y1="973.70" x2="1131.95" y2="980.80" stroke="#000" stroke-width="2.8000000000000003"/>
<line x1="1125.45" y1="973.70" x2="1138.45" y2="973.70" stroke="#000" stroke-width="2.6"/>
<rect x="1118.65" y="981.55" width="26.60" height="79.95" fill="#A3044F" stroke="#000" stroke-width="3.5"/>
<rect x="1116.90" y="979.80" width="30.10" height="3.8" fill="#000"/>
<line x1="1171.60" y1="866.70" x2="1171.60" y2="878.50" stroke="#000" stroke-width="2.8000000000000003"/>
<line x1="1165.10" y1="866.70" x2="1178.10" y2="866.70" stroke="#000" stroke-width="2.6"/>
<rect x="1158.55" y="879.25" width="26.10" height="182.25" fill="#008207" stroke="#000" stroke-width="3.5"/>
<rect x="1156.80" y="877.50" width="29.60" height="3.8" fill="#000"/>
<line x1="1211.75" y1="859.10" x2="1211.75" y2="872.50" stroke="#000" stroke-width="2.8000000000000003"/>
<line x1="1205.25" y1="859.10" x2="1218.25" y2="859.10" stroke="#000" stroke-width="2.6"/>
<rect x="1198.55" y="873.25" width="26.40" height="188.25" fill="#0000CB" stroke="#000" stroke-width="3.5"/>
<rect x="1196.80" y="871.50" width="29.90" height="3.8" fill="#000"/>
<line x1="1251.75" y1="927.30" x2="1251.75" y2="937.10" stroke="#000" stroke-width="2.8000000000000003"/>
<line x1="1245.25" y1="927.30" x2="1258.25" y2="927.30" stroke="#000" stroke-width="2.6"/>
<rect x="1238.55" y="937.85" width="26.40" height="123.65" fill="#7A089B" stroke="#000" stroke-width="3.5"/>
<rect x="1236.80" y="936.10" width="29.90" height="3.8" fill="#000"/>
<line x1="1317.90" y1="974.90" x2="1317.90" y2="980.80" stroke="#000" stroke-width="2.8000000000000003"/>
<line x1="1311.40" y1="974.90" x2="1324.40" y2="974.90" stroke="#000" stroke-width="2.6"/>
<rect x="1304.45" y="981.55" width="26.90" height="79.95" fill="#A3044F" stroke="#000" stroke-width="3.5"/>
<rect x="1302.70" y="979.80" width="30.40" height="3.8" fill="#000"/>
<line x1="1357.60" y1="1026.30" x2="1357.60" y2="1029.00" stroke="#000" stroke-width="2.8000000000000003"/>
<line x1="1351.10" y1="1026.30" x2="1364.10" y2="1026.30" stroke="#000" stroke-width="2.6"/>
<rect x="1344.35" y="1029.75" width="26.50" height="31.75" fill="#008207" stroke="#000" stroke-width="3.5"/>
<rect x="1342.60" y="1028.00" width="30.00" height="3.8" fill="#000"/>
<line x1="1397.55" y1="1023.70" x2="1397.55" y2="1028.00" stroke="#000" stroke-width="2.8000000000000003"/>
<line x1="1391.05" y1="1023.70" x2="1404.05" y2="1023.70" stroke="#000" stroke-width="2.6"/>
<rect x="1384.35" y="1028.75" width="26.40" height="32.75" fill="#0000CB" stroke="#000" stroke-width="3.5"/>
<rect x="1382.60" y="1027.00" width="29.90" height="3.8" fill="#000"/>
<line x1="1437.80" y1="993.90" x2="1437.80" y2="998.70" stroke="#000" stroke-width="2.8000000000000003"/>
<line x1="1431.30" y1="993.90" x2="1444.30" y2="993.90" stroke="#000" stroke-width="2.6"/>
<rect x="1424.35" y="999.45" width="26.90" height="62.05" fill="#7A089B" stroke="#000" stroke-width="3.5"/>
<rect x="1422.60" y="997.70" width="30.40" height="3.8" fill="#000"/>
<path d="M1131.75 862.80V852.70H1173.00V862.80" fill="none" stroke="#000" stroke-width="2.5" stroke-linejoin="round"/>
<text transform="translate(1130.00 855.87)" x="-0.38" font-size="25.5" letter-spacing="2.287" stroke="#000" stroke-width="0.55">****</text>
<path d="M1212.50 855.80V845.70H1253.25V855.80" fill="none" stroke="#000" stroke-width="2.5" stroke-linejoin="round"/>
<text transform="translate(1210.00 847.67)" x="-0.38" font-size="25.5" letter-spacing="2.454" stroke="#000" stroke-width="0.55">****</text>
<path d="M1318.25 970.60V960.40H1360.00V970.60" fill="none" stroke="#000" stroke-width="2.5" stroke-linejoin="round"/>
<text transform="translate(1320.75 964.87)" x="-0.38" font-size="25.5" letter-spacing="2.340" stroke="#000" stroke-width="0.55">***</text>
<path d="M1397.00 989.40V980.10H1438.75V989.40" fill="none" stroke="#000" stroke-width="2.5" stroke-linejoin="round"/>
<text transform="translate(1406.25 984.37)" x="-0.38" font-size="25.5" letter-spacing="2.625" stroke="#000" stroke-width="0.55">**</text>
<text transform="translate(1274.30 841.00)" x="-0.58" font-size="23" font-weight="bold" letter-spacing="0.137">A549</text>
<rect x="1104.75" y="1102.75" width="25.50" height="12.30" fill="#A3044F" stroke="#000" stroke-width="3.5"/>
<text transform="translate(1145.00 1114.25)" x="-0.98" font-size="19.5" letter-spacing="1.492" stroke="#000" stroke-width="0.35">Control</text>
<rect x="1104.75" y="1125.95" width="25.50" height="12.80" fill="#008207" stroke="#000" stroke-width="3.5"/>
<text transform="translate(1145.75 1138.00)" x="-1.56" font-size="19.5" letter-spacing="1.170" stroke="#000" stroke-width="0.35">Propofol</text>
<rect x="1104.75" y="1149.75" width="25.50" height="12.70" fill="#0000CB" stroke="#000" stroke-width="3.5"/>
<text transform="translate(1145.75 1161.75)" x="-1.56" font-size="19.5" letter-spacing="0.805" stroke="#000" stroke-width="0.35">Propofol+anti-miR-NC</text>
<rect x="1104.75" y="1172.95" width="25.50" height="12.80" fill="#7A089B" stroke="#000" stroke-width="3.5"/>
<text transform="translate(1145.75 1184.25)" x="-1.56" font-size="19.5" letter-spacing="0.666" stroke="#000" stroke-width="0.35">Propofol+anti-miR-153-3p</text>
</svg>
</body></html>
